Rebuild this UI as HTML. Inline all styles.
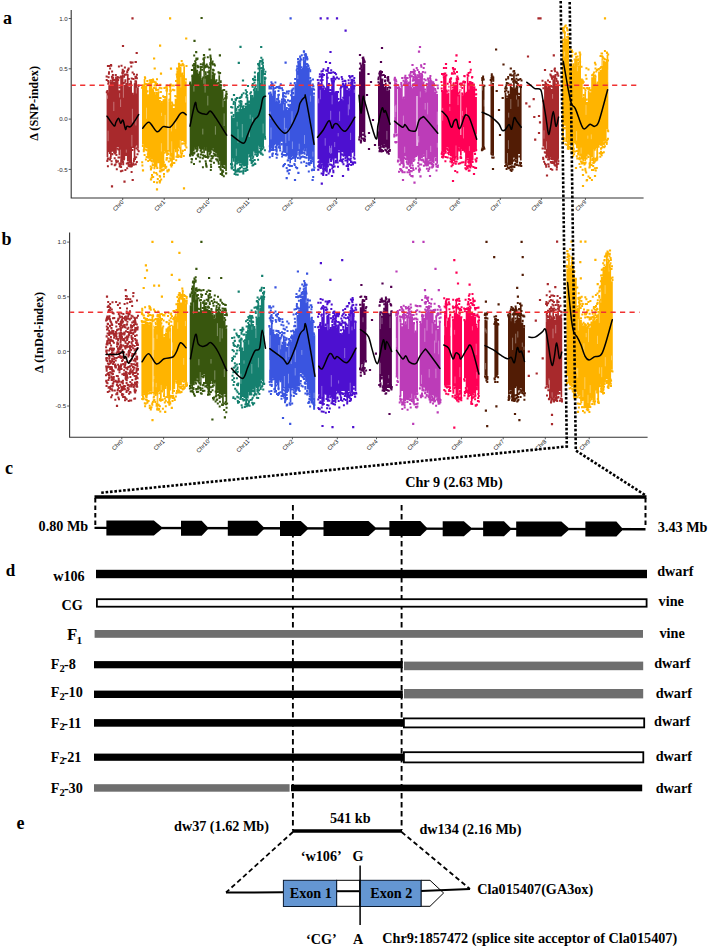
<!DOCTYPE html>
<html><head><meta charset="utf-8"><title>Figure</title>
<style>html,body{margin:0;padding:0;background:#fff;width:708px;height:948px;overflow:hidden}
svg{display:block}</style></head>
<body><svg width="708" height="948" viewBox="0 0 708 948" font-family="Liberation Serif, serif"><path d="M106.6 92.2V92.2H108.3V85.4H110V81.5H111.7V77.9H113.4V82.1H115.1V76.6H116.8V79.9H118.5V90.3H120.2V77.6H121.9V75.2H123.5V84.9H125.2V83H126.9V74.4H128.6V86.5H130.3V81.4H132V94.8H133.7V83.6H135.4V80.4H137.1V87.2H138.8V148.5H137.1V145.2H135.4V158.5H133.7V148H132V166H130.3V163.4H128.6V161H126.9V154.4H125.2V158.8H123.5V161.7H121.9V165H120.2V155.2H118.5V147H116.8V153.5H115.1V151.6H113.4V151.8H111.7V157.1H110V152H108.3V157.2H106.6Z" fill="#a8292c"/><path d="M107.5 95.4v3.4M108.1 141.2v-10.5M113.8 101.8v9.2M119.6 93.2v4.3M120.6 99.4v7.6M120.4 159.4v-9.7M123.4 84.1v13.7M126.3 152.7v-3.1M131.9 146.6v-11.7M132.4 108.8v13.8M136.3 87.8v5.7M135.9 125.5v-7" stroke="#fff" stroke-width="0.6" stroke-opacity="0.6" fill="none"/><path d="M106.4 90.9h2M106.7 159.6h2M105.8 92.2h2M107 158.5h2M107.7 82.6h2M108.8 152h2M107.3 83.8h2M108.9 153.1h2M109.8 80.8h2M109.4 157.8h2M109.8 80.7h2M109 159.6h2M112.1 77.5h2M111.2 154h2M111.9 75.1h2M111.4 154.3h2M113.8 80.6h2M113.4 151.8h2M112.8 79.8h2M113.1 152.2h2M114.8 75h2M115.4 155h2M114.7 75.1h2M114.1 153.6h2M116.1 78.4h2M117.4 149.4h2M116.7 77.3h2M116.2 148.6h2M118.4 87.4h2M117.5 157.5h2M118.9 87.6h2M118.7 157.6h2M120.1 77h2M120 166.5h2M119.8 76.6h2M120.1 166.9h2M122.3 72.8h2M122.2 164.2h2M121.3 72.7h2M122 162h2M122.7 83h2M123.1 159h2M122.8 83.3h2M122.8 159.6h2M124.3 81.8h2M125 155h2M124.4 80.3h2M125.1 155h2M126.2 72.3h2M127.1 162.6h2M126.3 71.5h2M127.3 162.5h2M128.2 84.6h2M127.7 164.3h2M129.3 83.9h2M128.2 166h2M129.8 81.4h2M130.8 166.1h2M130.7 78.5h2M130.3 166.5h2M131.7 93.8h2M131.4 150h2M131.8 94.3h2M131.2 150h2M134.2 83.5h2M133.1 159.5h2M134.4 81.2h2M133.3 159.1h2M135.9 78.3h2M135.2 148.2h2M134.8 78.2h2M134.6 145.7h2M137.5 86.1h2M136.7 149.4h2M137.6 85.4h2M137.7 151.2h2M135.9 74.7h2M116.1 161.5h2M134.4 76.8h2M123.1 71.2h2M113.5 80h2M107.9 73.8h2M108 72.2h2M131.1 164.6h2M110.6 161.3h2M108.1 65.9h2M130.6 171.9h2M115.9 79h2M135.2 157.2h2M110.2 65.8h2M115.8 169.2h2M134.8 164.2h2M127.8 79.1h2M110.7 164.2h2M113.7 158.2h2M131.6 72.6h2M133 74.3h2M116.5 76.9h2M126.4 74.7h2M107.6 77.2h2M109.6 158h2M118.4 163.4h2M113.1 80.2h2M121.7 69.7h2M127.7 68.4h2M121.5 73.1h2M118.9 165.6h2M135.2 77h2M107.2 81.1h2M133.9 157.7h2M134 158.9h2M132.9 160.9h2M129.3 166.6h2M134.5 62h2M111.3 77.8h2M123.9 67.4h2M127.5 68.7h2M122.2 162.4h2M106.9 166.3h2M125.8 163.6h2M136.5 154.3h2M132.7 164.7h2M119.9 171.2h2M117.9 66.5h2M110.9 76.7h2M134.9 61.9h2M124.9 74.6h2M115.1 160.4h2M105.7 80.1h2M106.3 160.9h2M132.5 79h2M123.1 76.7h2M113.7 165.2h2M131.6 62.5h2M121.4 170.8h2M124 74.8h2M109.1 68.4h2M129.7 165.8h2M130.1 62.7h2M121.7 71.3h2M121.8 75.3h2M105.6 76.5h2M115.4 162.2h2M127.6 165.7h2M117.8 77.7h2M114.5 164.4h2M132.3 163.3h2M120.5 65.8h2M129.6 62.3h2M111.1 71.4h2M117.2 80h2M119.3 163.8h2M124.4 169.9h2M129.7 165.1h2M126.2 168.2h2M118.7 166.5h2M135.8 162.1h2M130.3 66.6h2M116.9 161.3h2" stroke="#a8292c" stroke-width="2" fill="none"/><path d="M131.4 18.4h2.2M121.9 46h2.2M135.6 53h2.2M110.9 186.4h2.2M123.4 181.7h2.2M131.6 180h2.2M106.9 66h2.2M109.9 65h2.2M126.9 70h2.2" stroke="#a8292c" stroke-width="2.2" fill="none"/><path d="M142 87.3V87.3H143.7V79.1H145.4V85.8H147.2V94.2H148.9V84H150.6V82.8H152.3V89.7H154V94.6H155.8V91.9H157.5V92.3H159.2V100H160.9V103H162.6V99.2H164.3V98.3H166.1V87.5H167.8V101.3H169.5V86H171.2V104.6H172.9V108.1H174.7V98.7H176.4V70.5H178.1V66.6H179.8V67.3H181.5V74.9H183.3V66.2H185V81.2H186.7V144.6H185V141.3H183.3V141.1H181.5V153.6H179.8V147.7H178.1V156.4H176.4V148.9H174.7V160.1H172.9V163H171.2V156.8H169.5V151.7H167.8V155.9H166.1V151.6H164.3V167.3H162.6V168.8H160.9V169.4H159.2V161.8H157.5V166.9H155.8V165.9H154V162.8H152.3V159H150.6V157H148.9V155.3H147.2V147.9H145.4V147.4H143.7V143.7H142Z" fill="#ffb400"/><path d="M146.5 107.7v11.1M161.5 112.8v3.2M161.4 151.5v-8.3M165.2 114.9v10.6M171.4 125.9v5.5M171.7 152.9v-11.6M175.7 129v-7.9M180.8 77.1v10.4M180.3 147.3v-7.3M185.7 96.3v6.2" stroke="#fff" stroke-width="0.6" stroke-opacity="0.6" fill="none"/><path d="M141.8 87.1h2M141.9 146h2M141.7 86.2h2M142.1 143.8h2M143.9 77.3h2M143.1 148h2M144.2 78.3h2M142.8 149.9h2M144.7 83.9h2M145.7 150.3h2M144.9 84h2M144.8 149.6h2M146.5 91.3h2M147.4 157.8h2M146.2 91.5h2M147.2 156.2h2M149 83.5h2M149.5 158.4h2M149.4 81.9h2M148.9 157.8h2M150.9 82h2M150.8 161.2h2M150.1 82.4h2M150.3 160.5h2M151.7 89.6h2M152.5 165.2h2M153 87.9h2M151.9 165.3h2M153.7 94.1h2M153.4 168.3h2M153.8 92.8h2M153.4 168h2M154.8 89.5h2M156.2 167.8h2M155.4 90.2h2M156.3 168.1h2M157.6 92.2h2M157.1 162.2h2M157.3 89.8h2M158 161.9h2M158.2 98.1h2M159.5 171.4h2M159.6 98h2M158.9 171.2h2M160.9 102h2M161 170.4h2M160.8 102.9h2M160.5 170h2M162.9 97h2M162.9 169.6h2M162.1 96.3h2M161.9 170.1h2M164.2 97.2h2M165 151.7h2M164.3 97h2M163.6 152.8h2M165.2 87.4h2M165.7 158.1h2M165.6 87.1h2M166.4 158.3h2M167.7 100.3h2M167.4 154h2M168.4 99.5h2M167 153.6h2M169.7 84.4h2M170 159.3h2M169 85.6h2M169.1 158.3h2M171.3 103.7h2M170.7 164.1h2M170.8 102.4h2M171.1 164.6h2M172.1 105.2h2M172.8 162.9h2M173.5 105.2h2M173.3 162.9h2M175.4 96.4h2M174.9 151.2h2M174.3 95.9h2M174.8 150.1h2M176.6 68.9h2M176.9 156.9h2M176.1 68.4h2M175.5 156.7h2M178 66.4h2M177.2 150.3h2M178.2 66.1h2M178.6 147.8h2M180.4 65.5h2M180.3 156.3h2M179.6 65.3h2M179.8 156.5h2M181 74.3h2M181.8 143.4h2M181.4 73.4h2M181.2 143.7h2M182.6 65.3h2M183.5 141.3h2M182.5 65.2h2M183.8 143.6h2M184.9 79.6h2M185.4 147.4h2M184.7 79.3h2M184.5 145.5h2M181.5 150.8h2M145.7 157.1h2M150 168.9h2M180.7 61.1h2M163 176.4h2M150.6 80.1h2M162.7 162.3h2M170.4 166.4h2M153 172.6h2M175 81.1h2M153.3 81.7h2M146.8 154.3h2M167.8 169.8h2M168.2 94.1h2M153.5 81.9h2M150.6 167.7h2M156.1 84h2M180.3 156.9h2M143.6 155h2M169.8 164.9h2M155.1 85.4h2M146.7 85.3h2M144.9 159.6h2M166.2 85.5h2M149.9 169.6h2M159.9 92h2M154.6 83.5h2M151 174.9h2M156.2 174.6h2M142 85.3h2M152.2 177.1h2M142.8 151.2h2M145.6 84.2h2M143.2 87.1h2M158.8 182.4h2M151.8 81.7h2M164 164.7h2M156.8 179h2M178.7 156.5h2M159.1 176.7h2M164.6 168.1h2M158.6 181.6h2M165.5 159.8h2M148.8 160.1h2M165.4 90.4h2M164.7 87.4h2M145.6 156.9h2M165.3 166.8h2M173.3 90.2h2M154.8 82.4h2M181.8 150.9h2M150.7 177.5h2M156 79.2h2M179 68.1h2M146.3 81.1h2M170.8 164.4h2M141.4 165.4h2M169.7 159.3h2M180.5 154.3h2M167.8 161.6h2M159.3 84.7h2M162 163.2h2M141 87.8h2M147.2 161h2M153.1 182.1h2M170.3 164.6h2M152 79.6h2M166.1 89.8h2M175.7 74.4h2M180.3 153.2h2M185.5 66.1h2M160.4 88.2h2M177.5 155.3h2M169.4 90.2h2M171.1 85.5h2M169.7 90.9h2M172.8 85.4h2M181.1 153.2h2M148.8 80.2h2M156 182.5h2M176.1 76.7h2M163 173.9h2M149.7 166.4h2M166.5 171.6h2M147.7 83.7h2M142.2 87.3h2M175.2 160.3h2M153.9 166.3h2M177.9 63.8h2M158.7 175.9h2M181.8 64.6h2M141.2 162.2h2M181.6 63.7h2M151.7 177.1h2M183.9 150h2M163.9 166.5h2M182.8 156.1h2M171.9 89.8h2M152.1 80.1h2M169.8 159.4h2M169.7 160.5h2M151.7 164.2h2M154.9 88.3h2M167.6 170.6h2M155.2 173h2M163.4 88h2M158.7 87.8h2M177.5 69.5h2M166.3 170.4h2M168.8 86.6h2M147.4 156.5h2M153.5 85.4h2M146.8 84.4h2M176.8 69.8h2M160.2 179.5h2M165.8 89.1h2" stroke="#ffb400" stroke-width="2" fill="none"/><line x1="168" y1="92" x2="168" y2="150" stroke="#fff" stroke-width="0.9" stroke-opacity="0.85"/><path d="M169 18.4h2.2M159 45.7h2.2M185.1 38.5h2.2M153 58.5h2.2M153.6 68.5h2.2M159.9 73.7h2.2M169.9 68.7h2.2M178.1 64h2.2M141.9 170.3h2.2M149.9 179.3h2.2M155.9 189.4h2.2M158.9 181h2.2M182.9 188.4h2.2M170.7 165h2.2" stroke="#ffb400" stroke-width="2.2" fill="none"/><path d="M189.7 84.5V84.5H191.4V76.1H193.1V66.3H194.8V61.9H196.5V72.2H198.2V75.2H199.8V67H201.5V79.7H203.2V58.7H204.9V75.2H206.6V74.7H208.3V69.5H210V58.3H211.7V74.4H213.4V75.1H215.1V80.7H216.8V84.3H218.4V75.2H220.1V86.3H221.8V91.3H223.5V100.8H225.2V95.5H226.9V170.9H225.2V165.5H223.5V165H221.8V167.7H220.1V160.9H218.4V155.8H216.8V153.5H215.1V152H213.4V148.6H211.7V153H210V152.5H208.3V156.6H206.6V147H204.9V153.3H203.2V149.6H201.5V149.4H199.8V146.4H198.2V148.9H196.5V147.6H194.8V149.8H193.1V154.3H191.4V153.9H189.7Z" fill="#38560e"/><path d="M193.9 86v5.6M202.8 134.5v-5.8M203.8 72.1v11.7M205.1 78.7v13.9M207.8 95.8v9.7M211.3 69.8v9.3M215.4 134.7v-8.5M219.1 80.6v4.7M223 98.7v8.5M224.1 113.4v12.6" stroke="#fff" stroke-width="0.6" stroke-opacity="0.6" fill="none"/><path d="M189.3 82.4h2M189.7 154.2h2M189.6 84.3h2M189.1 155h2M191.8 75.4h2M191.6 155.3h2M191.3 75.8h2M191.8 154.9h2M193.1 64h2M192.5 149.9h2M193.5 65.3h2M193.5 152.6h2M194.2 61.3h2M194.6 148h2M195.3 59.8h2M195.2 148.8h2M195.5 71.9h2M195.8 151.2h2M196.1 70.8h2M196.5 149.7h2M198.6 72.3h2M198.5 147.7h2M197.6 74.9h2M198.6 146.8h2M199.8 64.2h2M200.4 149.7h2M200 66.9h2M199.6 150.7h2M201.4 79.1h2M201.1 152.2h2M202.2 77.4h2M200.6 152.3h2M202.7 58.6h2M203.1 156.2h2M203.6 57.5h2M203.9 155.7h2M204.7 72.3h2M204.9 149.7h2M204.7 73.9h2M204.9 147.9h2M207.1 72.3h2M206.9 157.8h2M207.3 72.3h2M206.6 156.9h2M207.9 67.8h2M208.4 154.2h2M208.1 67.6h2M208.7 153.8h2M209.4 55.6h2M209.2 153.3h2M209.5 56.7h2M210.4 156h2M212.1 73.6h2M212.3 150.3h2M211.7 72.6h2M210.8 149.1h2M212.8 74.5h2M212.8 153.4h2M213.6 74.2h2M213.8 154.9h2M215.5 80.3h2M214.8 154.6h2M215.3 80.6h2M214.6 155.7h2M217.2 83h2M217.4 156.4h2M215.9 83.9h2M216.7 156.2h2M219.1 73h2M217.8 163.7h2M217.5 72.3h2M217.5 161.7h2M219.2 84.8h2M219.5 168.6h2M220 85.2h2M219.8 169.7h2M222.4 90h2M221.6 165.1h2M220.9 90.9h2M221.9 167h2M222.6 99.5h2M223.7 167.9h2M224.1 98.3h2M223.5 167.2h2M225.7 94.2h2M225 173.4h2M225.4 94h2M225.2 173.3h2M210.4 158.8h2M199 74h2M191.9 65.6h2M221.1 172.3h2M225.5 97h2M197.3 154.2h2M207.7 156.6h2M225.1 97.1h2M191 159.4h2M191.2 151.5h2M201.1 69.8h2M196.6 66.1h2M209.2 64.6h2M196.5 58.6h2M209.4 63h2M203.8 67.4h2M212.5 64.3h2M195.3 52.3h2M218.3 73.4h2M219.7 82h2M199.3 157.5h2M205.2 165.3h2M193.1 153.6h2M193 163.9h2M196.9 67.2h2M204.4 65.7h2M198.1 74.4h2M205.6 166.8h2M211.6 61.6h2M204.6 157h2M221.3 175.1h2M192.9 152.4h2M221.6 170.5h2M223.3 85.4h2M205.7 64.4h2M206.2 66.7h2M195 158.7h2M215.2 159.3h2M212 69.8h2M211.5 158.1h2M195.1 51.9h2M204.6 161.2h2M222.8 176.3h2M191.3 152.9h2M225.3 91.7h2M201.9 167.3h2M221.1 173.9h2M212 64.6h2M193.2 55.5h2M198.8 161.4h2M196.5 155.3h2M200.9 67h2M190.5 162.2h2M189 84h2M202.4 59.3h2M197.2 156.5h2M222.2 171.7h2M208.9 160.7h2M210.3 161.3h2M201.9 64.8h2M196.3 59.1h2M196.4 65.7h2M190.5 154.3h2M213.9 65.5h2M212.7 70.3h2M210.1 167.1h2M225.4 98.2h2M206.6 66.6h2M202.3 63.2h2M191.2 154.3h2M209.8 169.9h2M221.8 171.3h2M204.2 67.1h2M213.2 64.2h2M195.4 58.4h2M219.7 81.3h2M206.8 57.3h2M212.3 156.3h2M223.2 89.9h2M213 162.7h2M211.3 63.5h2M201.8 158.2h2M209.8 58.8h2M205.4 166h2M197.7 66.7h2M216.3 159.4h2M209.9 164.8h2M218.3 167h2M189.2 155.8h2M216.3 160.5h2M190.6 159.1h2M205 163.5h2M200 154.6h2M202 155.3h2M219.7 174h2M224.8 95.4h2" stroke="#38560e" stroke-width="2" fill="none"/><path d="M200.5 18h2.2M193.4 40.8h2.2M208.5 49.5h2.2M218.8 55.4h2.2M190.9 70h2.2M202.9 55h2.2" stroke="#38560e" stroke-width="2.2" fill="none"/><path d="M230.9 115.6V115.6H232.6V117.9H234.4V101.5H236.1V111.6H237.9V111.4H239.6V104.7H241.3V108.9H243.1V108H244.8V105.5H246.6V97H248.3V103.8H250V94.7H251.8V97.3H253.5V90.5H255.3V87.9H257V74.1H258.7V61.5H260.5V69.4H262.2V64.7H264V80.6H265.7V136.9H264V147H262.2V151.5H260.5V145.7H258.7V154.7H257V153.4H255.3V151.6H253.5V156.4H251.8V160.2H250V154.4H248.3V165.1H246.6V166.3H244.8V166.5H243.1V165.6H241.3V163.1H239.6V161.2H237.9V162.4H236.1V170.2H234.4V158.3H232.6V166.8H230.9Z" fill="#15806f"/><path d="M237.2 121.8v4.6M236.3 155.9v-7.3M238 129.1v13.8M242.3 124v13.4M249.3 137v-6.3M250.2 114.7v4.2M252.7 117.4v5.6M258 81v9.8M260.5 69.3v13.7M263.4 75.2v9.4M263.1 133.4v-9.8" stroke="#fff" stroke-width="0.6" stroke-opacity="0.6" fill="none"/><path d="M230.8 112.7h2M231.6 167.2h2M230.4 112.7h2M230.5 167.4h2M232.4 116.5h2M232.6 158.8h2M232.7 115h2M232.7 160.7h2M234.5 99.3h2M234.5 171.5h2M234.8 100.2h2M234.8 170.4h2M235.4 110.3h2M236.6 162.5h2M235.5 108.7h2M235.9 163.5h2M238.2 109.7h2M238.2 161.4h2M238.5 110.7h2M238.3 162.5h2M239.4 103.1h2M238.9 164.7h2M239.3 102h2M239.9 164.5h2M240.7 106.4h2M240.7 167h2M241.9 108.5h2M240.5 165.8h2M242.1 106.5h2M242.9 168.7h2M242.6 106.3h2M242.6 168.7h2M244.8 103.9h2M244.4 168.8h2M245.5 103.8h2M244.9 168.5h2M246.2 95.4h2M245.9 165.8h2M245.9 95.2h2M246 167.4h2M247.9 102.8h2M248.3 156.4h2M248 101.5h2M248.8 155.3h2M249.3 93.5h2M250.6 163.1h2M250.1 92.3h2M250.5 160.9h2M251.3 96h2M252.2 156.7h2M251.5 96.8h2M251.7 158.6h2M253.6 88.4h2M254.2 154.4h2M252.9 90h2M254.2 152.1h2M254.8 85.5h2M255.5 154.4h2M254.5 86.8h2M254.6 154.2h2M257 73.7h2M256.6 155.1h2M257.6 73.1h2M256.1 156.1h2M259.3 61.5h2M259 145.9h2M259.2 61h2M259.1 148.2h2M261.2 67.9h2M260.6 153.5h2M259.7 68.3h2M260.1 153.7h2M261.3 64h2M261.3 149h2M262 62.8h2M262.2 147.1h2M263.7 78h2M264.2 138.8h2M264.5 78.2h2M264 137h2M253.7 77.5h2M251.8 84.1h2M235 174.6h2M258.7 151.6h2M257.4 68.6h2M233.6 174.1h2M259.5 152.5h2M261.6 59.8h2M263.9 150.2h2M251.6 86.8h2M230.3 164.1h2M254 77.5h2M253.7 159.9h2M253.9 72.5h2M251.2 162.2h2M253.5 82.6h2M233.9 165.6h2M240.5 96.7h2M235.1 99.3h2M242.2 171.5h2M239.2 168h2M238.5 98.1h2M262.4 147.8h2M239.7 101.1h2M258.1 151.6h2M231.1 168.4h2M244.8 90.3h2M242.3 173.6h2M257.4 152.4h2M242.6 93.3h2M237.5 169.2h2M264 74h2M253.7 163.4h2M230 164.3h2M254.3 164h2M257.7 65.5h2M231.1 99.7h2M260 149.9h2M252.4 164.9h2M245.1 93.8h2M238.3 101.6h2M242.4 171h2M261 61.3h2M244.6 171h2M262.8 69.6h2M240.1 171.4h2M236.9 169.4h2M239.1 97.8h2M257.1 152h2M257.1 159.8h2M230.8 168.4h2M256.7 154.9h2M239.8 97.3h2M263.7 77.6h2M234.4 172h2M247 86.1h2M230.9 99.2h2M232.8 170h2M232.8 102.1h2M231.4 107.6h2M240.6 101.8h2M251.5 165.5h2M235.9 171.6h2M238.6 171.7h2M252 78.9h2M264.4 71.7h2M240.4 104.1h2M260.3 57.8h2M238.3 105.6h2M236.9 107h2M261.7 154.7h2M240.9 94.7h2M231.2 164.4h2M254.3 80.1h2M252.1 160.9h2M245.4 97.2h2M237.9 171.2h2M249.3 160h2M245.8 92.1h2M238.4 168.7h2M261.5 62.5h2M239.9 104.6h2M257.1 64h2M232.6 104h2M238.5 98h2M236.7 174.8h2M253.8 76.5h2M263.9 79.6h2M246.4 170.1h2M230.2 107.1h2" stroke="#15806f" stroke-width="2" fill="none"/><path d="M239.4 46.9h2.2M237.7 62.9h2.2M260.1 47h2.2M252.7 80h2.2M241.9 80.5h2.2M232.9 95h2.2M235.9 98h2.2" stroke="#15806f" stroke-width="2.2" fill="none"/><path d="M269 94.2V94.2H270.7V95.7H272.4V84.9H274.1V93.2H275.8V101.7H277.5V96H279.2V103.3H280.8V100.6H282.5V97.6H284.2V102.7H285.9V109.8H287.6V107.8H289.3V103.7H291V91.8H292.7V95.7H294.4V85.8H296.1V70.8H297.8V61.8H299.5V62.5H301.2V69H302.9V60.2H304.5V57H306.2V65.5H307.9V68.2H309.6V80.6H311.3V87.6H313V95.6H314.7V167.2H313V160.3H311.3V159.5H309.6V160.9H307.9V154.8H306.2V148.2H304.5V149.2H302.9V154.2H301.2V151.9H299.5V151.1H297.8V155.2H296.1V162.1H294.4V156.1H292.7V157.6H291V163.2H289.3V159.1H287.6V154.7H285.9V152.9H284.2V152H282.5V141.8H280.8V148H279.2V145.8H277.5V152.7H275.8V144.2H274.1V147.2H272.4V147.9H270.7V150H269Z" fill="#3a55e0"/><path d="M270.1 111.6v7.3M271 139.4v-11.9M283.6 104.3v6M284.4 117.8v11.8M285.8 143.1v-10M286.1 127.9v4.1M287 152.8v-6.7M289 140.8v-11.8M292 111.2v12.5M292.4 149.1v-7.6M297.8 74.9v4.1M299.2 149.2v-5.5M304.5 143.9v-8.8M310.4 95.7v6M312.9 156.6v-5" stroke="#fff" stroke-width="0.6" stroke-opacity="0.6" fill="none"/><path d="M268 93.4h2M268.4 151.6h2M269.5 92.6h2M268.9 150.8h2M270 95.6h2M269.8 148.8h2M270.1 94.5h2M271.2 150h2M271.6 83.7h2M272 148h2M271.5 84.3h2M272.6 150h2M274 91.6h2M273.4 144.5h2M273.9 93.1h2M274.5 146.9h2M275.6 101.2h2M276.2 154.4h2M276.1 98.9h2M276.4 154.7h2M277.3 94.9h2M277.8 147.6h2M277.9 94.7h2M278.1 146.9h2M278.3 101.2h2M279.2 150.4h2M278.3 102h2M279.1 148.2h2M281.4 99.2h2M280.7 144.5h2M281 99.8h2M280.8 144.1h2M282.8 96.2h2M282.2 154.9h2M282 96.8h2M281.6 152.3h2M283.5 101.6h2M284.3 155.3h2M284 100.3h2M284 154.9h2M285 109.7h2M285 155.6h2M285.8 108h2M286.1 154.7h2M288 105.7h2M286.7 160.6h2M287.3 104.8h2M287 160.2h2M288.6 101.2h2M288.7 166h2M289.5 100.8h2M289.1 165.7h2M290.5 90.8h2M291.6 157.9h2M291.4 89.6h2M290.3 158.9h2M292 92.7h2M293 156.9h2M292.3 93.6h2M293.2 157.7h2M294.6 85.1h2M293.4 164.1h2M293.8 83.1h2M293.7 165.1h2M295.7 70.3h2M295.2 156.8h2M296.2 68.5h2M295.2 155.3h2M297 59.1h2M298.3 153.9h2M297.4 61.5h2M298.2 152.4h2M299.2 61.7h2M298.7 152.1h2M300.1 59.6h2M298.6 153.7h2M301.6 68.7h2M300.5 157.1h2M300.6 67.2h2M301.7 156.4h2M302.7 58h2M301.9 149.4h2M302.5 59.7h2M303.4 150.5h2M305.1 56.7h2M304.6 150.6h2M305.1 55.3h2M304.3 148.8h2M305.9 63.9h2M305.7 157.7h2M306.8 64.7h2M305.9 155.1h2M308.1 68.2h2M308.1 162.8h2M307.4 65.9h2M308.4 163.6h2M309.2 78h2M310 161.6h2M309.9 80.5h2M310 160.9h2M311.8 84.6h2M310.3 163h2M311.6 85.8h2M311.6 161.3h2M312.9 93.8h2M313.4 167.7h2M313 93.4h2M313 170.1h2M306.4 58.9h2M298.6 155.8h2M273.1 88.4h2M291.5 90h2M306.2 59.4h2M307.8 171.6h2M274.4 82.5h2M304.5 56.3h2M287.5 165h2M305.6 163.3h2M275.4 150.5h2M282.9 165.1h2M274.8 149.6h2M309.2 71.2h2M268.8 157.3h2M299.9 153.5h2M271.3 154.3h2M284.9 93.5h2M312 79.5h2M283.1 93.1h2M294.9 167.2h2M302.5 152.8h2M271.4 156h2M278.2 88.3h2M280.9 154h2M311.4 169.6h2M303.3 156.9h2M287.3 93.4h2M275 154h2M289.7 83.5h2M286.7 170.6h2M309.2 70.2h2M282.1 94.1h2M281.7 90.2h2M297.6 64.1h2M283.2 99.4h2M282.2 166.2h2M290.7 91.8h2M304.5 55.9h2M285.7 168h2M306.1 57.3h2M308.5 164.1h2M312.4 88.7h2M282 95.4h2M296.2 66.2h2M268.5 88.6h2M287.9 91.2h2M269.5 146.5h2M275.7 157.7h2M304.7 54.1h2M304.2 55.6h2M269.8 150h2M299.3 57.2h2M287.9 173.6h2M283.2 96.3h2M277.3 87h2M304.4 157.4h2M303.7 153.7h2M313.1 89.7h2M297.2 62.3h2M303.6 54.6h2M271.9 153.5h2M299.7 59.2h2M270.5 88.5h2M277.5 90.9h2M268.5 86.6h2M285.4 102.2h2M299.8 151.7h2M299.1 158.5h2M301 152.6h2M268.8 146.2h2M296.2 168h2M270.4 82.2h2M286.9 100.3h2M288.7 170.1h2M298.4 153.3h2M305.5 58.2h2M279.8 84.2h2M296.9 157.9h2M290.9 166h2M292.5 88.6h2M275.7 87h2M297.5 62h2M279.8 88.2h2M303.1 161.7h2M310.9 170.2h2M286.5 171.2h2M281.1 156.4h2M290.1 95.2h2M274.5 87.9h2M303.4 152.8h2M269.8 87.5h2M299.4 158.1h2M305.3 166h2M284.8 96.8h2M276.8 87.3h2M308.6 164.7h2M300.3 162.6h2M300.2 152h2M270.4 85.1h2M278.5 86.4h2M299.4 60.5h2M283.9 163.9h2M307.6 164.3h2M293.7 83.3h2M299.1 56.6h2M312.4 86.3h2M281 88.3h2M282.2 92.9h2M300.8 55.2h2M305 58.3h2M302.9 51.5h2M285.9 91.5h2M270.9 85.9h2M299.2 60.6h2M296.1 168.2h2M312.2 177.1h2M294.2 79h2" stroke="#3a55e0" stroke-width="2" fill="none"/><path d="M289.5 18.4h2.2M284.5 62.6h2.2M302.9 51.7h2.2M297.3 172.8h2.2M285.6 178.2h2.2M293.9 180h2.2M311.5 180h2.2M270.9 84h2.2" stroke="#3a55e0" stroke-width="2.2" fill="none"/><path d="M317.5 84.5V84.5H319.2V83.2H320.9V77H322.6V87.7H324.4V89.9H326.1V73H327.8V85.6H329.5V92H331.2V80.5H332.9V79.3H334.6V92.9H336.4V92.1H338.1V101.7H339.8V89.6H341.5V100.3H343.2V84.5H344.9V82.4H346.6V89.7H348.3V90.2H350.1V81.9H351.8V80.8H353.5V86.8H355.2V156.6H353.5V150.2H351.8V157.3H350.1V156.3H348.3V163.7H346.6V156.8H344.9V154.8H343.2V152.2H341.5V160.3H339.8V150.2H338.1V160.9H336.4V158.4H334.6V165.8H332.9V158.4H331.2V158.5H329.5V163.4H327.8V172.6H326.1V165.1H324.4V174.3H322.6V163.6H320.9V164.5H319.2V159.3H317.5Z" fill="#4d10d0"/><path d="M318.7 98.5v4.8M320.3 89.8v9.5M325.2 145.7v-7.5M329.5 152.7v-6.9M330.7 110.8v8.9M330.7 153.9v-6.1M332.1 95.2v9.1M331.6 153.2v-7.6M334.7 147.1v-5.1M339.6 111.4v9.5M338.2 136.4v-3.3M348.3 104.4v10.9M349.4 96.4v13M350.6 140v-7.2M354.3 89.6v3.3" stroke="#fff" stroke-width="0.6" stroke-opacity="0.6" fill="none"/><path d="M317.5 82.8h2M317.5 162.1h2M317.4 84.2h2M318 161.5h2M319.4 80.2h2M318.3 167.2h2M319.9 80.6h2M319 166.5h2M320.4 76.3h2M321 164.5h2M321.4 76.7h2M320.3 164.9h2M322.8 86.8h2M322.2 174.9h2M321.7 85.5h2M322.2 175h2M325 89.8h2M324.2 166.6h2M324.3 88.6h2M324.9 166.9h2M326.7 71h2M325.4 175.1h2M325.1 70.4h2M325.3 175.1h2M328 84h2M326.9 166.2h2M328.2 84.5h2M326.8 164.6h2M329.1 90h2M330.1 161h2M329.9 90.2h2M329.9 159.2h2M331.5 78.7h2M330.4 160h2M330.5 78.9h2M330.9 158.8h2M333.5 78.2h2M333.6 166.4h2M332.6 76.7h2M332.1 167h2M334.7 92.6h2M335 160.7h2M334.2 92.4h2M334.9 161.2h2M335.4 92h2M335.7 162.3h2M337 92h2M336.7 162.5h2M338.6 101.7h2M338.8 151.4h2M337.5 99.1h2M337.9 151.4h2M339.5 88.8h2M338.8 160.7h2M340.1 87.4h2M340.4 160.7h2M342.2 97.7h2M341.4 154.8h2M340.8 99.9h2M340.7 154.3h2M342.4 84.4h2M342.7 155.7h2M342.2 84h2M343.6 155h2M344.1 81.1h2M344.5 158.1h2M344.4 81h2M345.6 156.8h2M345.8 86.8h2M345.6 166.1h2M346.1 87.6h2M347 165.9h2M347.7 89.5h2M347.5 159h2M347.9 89.2h2M347.6 158.7h2M350.4 79.8h2M349.8 158.4h2M350.6 81.4h2M349.2 159.9h2M351.5 80.6h2M351.9 150.9h2M351.4 79.7h2M351.3 151.7h2M353.7 85.8h2M352.7 157.6h2M352.9 85.9h2M353.6 158.7h2M343.7 80.8h2M327.6 173.6h2M340.7 77.1h2M348.3 76.1h2M351.2 80.4h2M335.1 74.2h2M320.6 173.6h2M321 74.6h2M332.4 172.3h2M353.3 78.1h2M330.6 80.4h2M335.8 161.7h2M324.5 169.7h2M334 72.9h2M321.6 74h2M341.7 81.5h2M330.2 164.8h2M324.2 169.3h2M347.3 169.8h2M327.2 67.9h2M352 164.2h2M350.2 165.1h2M348.1 164.2h2M325.9 165.8h2M347.6 80.3h2M332.7 81.6h2M322.7 74.9h2M346.5 160.6h2M326.6 77.7h2M344.5 160.4h2M342.5 164.2h2M342.2 159.3h2M336 77.5h2M318.7 76.8h2M353.6 82.8h2M329.5 73.1h2M352.7 162.4h2M353.6 162.3h2M350.3 161.6h2M331 165.6h2M322.8 165.7h2M317.2 169.8h2M332.3 170.8h2M317.4 169.7h2M331.2 81.2h2M317.1 166.3h2M324.6 170.6h2M334.3 79.3h2M316.8 80h2M340.3 86.6h2M336 77.8h2M350 162.1h2M347.1 168.5h2M319.6 168.1h2M329 169.8h2M324.2 167.7h2M329 164.4h2M327.6 72.8h2M337.8 78.8h2M330.2 70.3h2M334.4 162.5h2M347.8 83.2h2M341.1 160h2M321.6 79.9h2M321.7 71h2M331.2 168.5h2M337 166.8h2M332.9 81.3h2M341.5 162.3h2M326.8 69.7h2M322.3 169.1h2M341.9 84.1h2M322.4 171.6h2M350.5 76.6h2M346.6 165.1h2M318.9 74.3h2M341.8 86.4h2M317.6 83.1h2M349 77.5h2M354.2 162.7h2M341.5 162h2M353 80.5h2M332.4 72.2h2M320.3 165.4h2M322.1 174h2M324.5 165.5h2M322.5 69.2h2M328.8 171.6h2M341.3 78.9h2M318.2 164.6h2M340 87.2h2M320.5 167.6h2M351.5 76h2M351.3 162.4h2M340.7 160.9h2M323.1 74.9h2M320.5 71.4h2M330.3 72.7h2" stroke="#4d10d0" stroke-width="2" fill="none"/><path d="M319.6 18.4h2.2M326.4 18.4h2.2M335.9 18.4h2.2M344.5 30.6h2.2M329.4 52h2.2M324.9 62h2.2M328.9 63h2.2M320.7 183.7h2.2M330.9 176h2.2M341.9 176h2.2" stroke="#4d10d0" stroke-width="2.2" fill="none"/><path d="M359 71.5V71.5H360.6V68.5H362.1V59H363.7V63.8H365.3V134.7H363.7V132.2H362.1V139.5H360.6V136.9H359Z" fill="#520050"/><path d="M358.9 68.7h2M358.2 139.4h2M359.6 68.5h2M358.5 137.2h2M360.2 65.6h2M359.6 140.4h2M360.3 67.4h2M359.9 142.4h2M362.2 58.6h2M362.2 134.4h2M362.3 57.5h2M361.2 134.7h2M363.4 61.3h2M364.1 136.5h2M363.7 61.9h2M363.3 135.3h2M360.1 140.4h2M362 138.4h2M363 62.3h2M363.1 60.5h2M363.7 141h2M363.2 60.9h2M363 139.9h2M360.2 140.8h2M362.7 59.2h2M363.3 140.6h2M361.8 63.8h2M359.2 63.5h2M361.7 58.1h2M364 139.4h2M363.2 138.8h2M362.7 138.7h2" stroke="#520050" stroke-width="2" fill="none"/><path d="M378 83.7V83.7H379.7V72.4H381.5V80H383.2V87.1H384.9V82.8H386.6V90.8H388.4V89.5H390.1V148.8H388.4V149.7H386.6V147.5H384.9V144.6H383.2V145.3H381.5V149.3H379.7V146.6H378Z" fill="#520050"/><path d="M378.6 131.5v-10.2M386.9 139.6v-8.7" stroke="#fff" stroke-width="0.6" stroke-opacity="0.6" fill="none"/><path d="M378.7 83.5h2M378.5 148.1h2M377.5 82.2h2M378.4 147.9h2M379.6 71.2h2M379.1 149.9h2M378.9 71.9h2M379.5 150h2M381.4 79.4h2M381.9 145.3h2M381 79.6h2M381.2 146.7h2M382.3 86.8h2M383.6 145.5h2M383 85.1h2M382.9 147.2h2M384 81.2h2M384.3 149.7h2M384.2 80.6h2M384.8 150.4h2M386.4 88h2M387.1 152h2M386.3 89.8h2M386.1 152.6h2M389.1 87.7h2M388.9 149.9h2M388.3 87.2h2M387.7 150.9h2M384 75.9h2M386.7 80.2h2M378.8 74.8h2M387.2 77.1h2M386.4 77.8h2M389 83.3h2M382 150.9h2M387.4 80h2M380.2 72.9h2M377.6 78.4h2M380.9 75.3h2M378.3 73.5h2M382.7 75.1h2M388.2 82.5h2M378.9 150.1h2M381 72h2M377.4 79.3h2M384 77.1h2M380.6 151.6h2M387.8 153.8h2M378.5 151.2h2M379.5 73.6h2M386.9 80.8h2M388.7 151.1h2M380.6 75.3h2M377.7 77.6h2M380.8 150h2M387.2 78.9h2M378.8 75.8h2M380.4 150.7h2M385.1 150.5h2" stroke="#520050" stroke-width="2" fill="none"/><path d="M367.4 74h2.2M365.9 95h2.2M367.9 133h2.2M367.9 149h2.2M373.9 145h2.2M380.9 48h2.2M379.9 62h2.2M369.9 82h2.2M371.9 120h2.2M358.9 55h2.2" stroke="#520050" stroke-width="2.2" fill="none"/><path d="M394.2 79V79H395.6V84.7H397V133.4H395.6V133.7H394.2Z" fill="#bc3cb8"/><path d="M395 117.2v-11M395.8 104.7v7.2" stroke="#fff" stroke-width="0.6" stroke-opacity="0.6" fill="none"/><path d="M393.9 77.7h2M393.3 136.5h2M393.7 78.8h2M393.3 134.8h2M394.7 83.9h2M395.8 134.8h2M395.3 84.5h2M395.4 135.6h2M395.3 81.4h2M394.8 142.6h2M393.5 79.7h2M394.8 79.7h2M394.3 142h2M395.6 142.1h2M394.4 142h2" stroke="#bc3cb8" stroke-width="2" fill="none"/><path d="M397.7 87.2V87.2H399.4V89.1H401.1V84.7H402.7V98.8H404.4V79.2H406.1V80.3H407.8V85.6H409.5V75H411.1V88.3H412.8V87H414.5V76.1H416.2V77.8H417.9V79H419.5V76.5H421.2V76.6H422.9V84.4H424.6V92.2H426.2V85.7H427.9V81.2H429.6V78.3H431.3V84H433V86.2H434.6V92.1H436.3V95H438V163.7H436.3V157.5H434.6V163.5H433V162.1H431.3V160.3H429.6V159.2H427.9V163.5H426.2V162.2H424.6V154.8H422.9V158H421.2V158.9H419.5V161.6H417.9V155.7H416.2V156.7H414.5V159.8H412.8V164.5H411.1V166.2H409.5V163.5H407.8V160.8H406.1V156.6H404.4V164.5H402.7V162.5H401.1V161.8H399.4V158.4H397.7Z" fill="#bc3cb8"/><path d="M403.4 115.6v10.5M404.7 152.8v-6.1M417.7 145.8v-6.2M418.7 142.5v-6.4M420.3 91.5v5.9M425.2 103v6.6M427.6 102.7v11.7M426.7 158.2v-8.1M430.7 152v-6.2M437.3 111.6v13.1M437.3 147.6v-4.8" stroke="#fff" stroke-width="0.6" stroke-opacity="0.6" fill="none"/><path d="M397.3 85.4h2M396.9 161.4h2M396.8 84.9h2M397 160.4h2M398.4 87.5h2M399.1 164.4h2M399 89h2M398.8 164.4h2M400.3 83h2M400.3 162.9h2M400.3 84h2M401.6 163.1h2M403.1 97.4h2M402.5 164.5h2M402.4 98.1h2M402.4 167.1h2M403.6 77.7h2M404.8 158.9h2M404.8 78h2M403.6 158.1h2M406.6 78h2M406.3 163.7h2M405.2 79.2h2M405.8 162h2M407.6 84.6h2M407.2 163.5h2M406.9 85.1h2M407.6 164.2h2M410 72h2M408.8 166.3h2M409.5 73.4h2M410 167.9h2M410.4 88.1h2M411.7 165.6h2M411.5 86h2M411.5 165.4h2M413.3 84.1h2M412.4 160.9h2M411.8 84.5h2M412.8 160.3h2M414.1 75.3h2M413.5 157.1h2M413.9 74.2h2M413.5 159.5h2M416.7 77.4h2M415.3 156.1h2M415.5 77.2h2M415.2 156.1h2M418 77.3h2M418.5 164.4h2M418.4 77.5h2M417.3 163h2M420.1 76.1h2M419.6 159.7h2M418.6 76.5h2M419.2 159.4h2M421 74.5h2M421.7 159.5h2M421.2 76h2M420.8 160.3h2M422.6 82.5h2M423.3 155.6h2M422 84.1h2M422.4 155.9h2M424 89.6h2M424.6 164.7h2M423.8 91.7h2M424.2 163.6h2M425.8 83.9h2M426.9 165.2h2M426.1 84.6h2M425.4 165.4h2M427.5 80.8h2M427.4 162h2M427.3 79.4h2M428.5 160.4h2M429.1 78.1h2M429.8 160.7h2M429.4 76h2M430 162.9h2M430.6 83.6h2M431 163.3h2M430.5 81.6h2M430.4 163.2h2M433 84h2M432.1 166.4h2M432.8 83.9h2M432.3 164.9h2M434.5 90.5h2M434.8 160.3h2M434.1 89.1h2M434.9 158.7h2M436 94.9h2M435.5 166.5h2M435.5 92.3h2M436.9 165.6h2M407.9 170.1h2M430.9 164.5h2M435.5 170.4h2M413.3 73.2h2M417.4 166.2h2M426.9 78.5h2M409.7 75.8h2M432.3 82.3h2M415.7 68.1h2M416.6 69.9h2M408.6 172.2h2M401.5 172.2h2M418.2 171.7h2M398 171.8h2M402.8 165.7h2M412 168.2h2M419.1 169.7h2M414.9 168.4h2M435 164.2h2M427.3 162.2h2M422.9 165.8h2M408.9 174.6h2M411.9 72.1h2M420.4 66.8h2M431.3 166.9h2M409.2 76.9h2M416.3 75.3h2M405 79.5h2M421.9 72h2M409.4 170.9h2M436.7 167.1h2M411.6 176.5h2M436.7 85.4h2M405.4 167.6h2M410.7 171.3h2M400.6 85.8h2M422.7 161.7h2M418 72.1h2M399.2 169.1h2M425.3 162.7h2M413.8 71.2h2M420.1 65.3h2M396.8 87.9h2M429.9 163.3h2M429 163h2M420.3 73.7h2M403.6 172.2h2M405.1 83.8h2M412.5 169.9h2M427.5 161.5h2M435.4 80.1h2M422.7 67.9h2M436.9 88.3h2M406.5 172.2h2M405.9 167.7h2M429.2 163.4h2M425 163.8h2M426.4 162.3h2M411.2 76.3h2M413.3 80.1h2M418 75.6h2M418.5 74h2M427.4 170.9h2M420.9 77.4h2M412.4 77h2M417.9 169.9h2M431.1 167.5h2M422.5 160.6h2M424 162.2h2M411.5 175.9h2M413.7 70.9h2M404.4 75.8h2M424.2 72.4h2M407 83.9h2M412.9 77.4h2M408.2 82.5h2M410.3 176h2M418.5 168.5h2M420.2 164.4h2M411.8 80.8h2M412.6 74h2M428.1 169.1h2M423.3 79.3h2M402.5 80.8h2M412.8 69.8h2M431.6 83.2h2M412.3 79.1h2M400.3 169.5h2M401.2 77.9h2M401.2 170.9h2M425.9 168.7h2M429.7 80.8h2M400 170.4h2M435.1 79.8h2M427.1 163.5h2M404.3 83.7h2M408 82.9h2M426.6 165.2h2M403 84.5h2M424.7 80.2h2M408.4 75.3h2M403.6 82.2h2M428.7 167.6h2M414.8 78.1h2" stroke="#bc3cb8" stroke-width="2" fill="none"/><line x1="417" y1="96" x2="417" y2="146" stroke="#fff" stroke-width="1.2" stroke-opacity="0.85"/><path d="M418.9 47h2.2M417.9 51.7h2.2M411.4 65h2.2M423.4 64h2.2M413.4 182.7h2.2M419.4 176.3h2.2M401.9 180h2.2M428.9 176h2.2" stroke="#bc3cb8" stroke-width="2.2" fill="none"/><path d="M441.4 91.1V91.1H443.1V77.3H444.8V76.7H446.5V93.2H448.2V92.5H449.9V80.6H451.5V90H453.2V86.1H454.9V84.6H456.6V80.8H458.3V94.5H460V92.8H461.7V95.2H463.4V84.5H465.1V93H466.8V76.6H468.4V83.1H470.1V83.6H471.8V84.7H473.5V88.8H475.2V97H476.9V149.8H475.2V152H473.5V160.1H471.8V165.3H470.1V162.9H468.4V158.1H466.8V159.8H465.1V149.6H463.4V149.1H461.7V155.5H460V147.7H458.3V157.1H456.6V158.5H454.9V158.8H453.2V159.7H451.5V156.3H449.9V152.9H448.2V147.4H446.5V151.7H444.8V152.7H443.1V151.7H441.4Z" fill="#ff0055"/><path d="M442.7 107.9v12.8M449.8 106.7v4.3M456 156.2v-10.7M458 96.4v8.7M462.5 110.9v4.9M463.5 138.4v-11.3M466.5 107.6v8.9M469 85.8v3.7M469.4 150.9v-4.7M476.7 138.5v-4.6" stroke="#fff" stroke-width="0.6" stroke-opacity="0.6" fill="none"/><path d="M441 90.9h2M441.1 152.2h2M440.7 88.4h2M440.7 153.8h2M443.6 76.7h2M443 153.4h2M443.4 77.1h2M442.5 155.5h2M445.4 75.2h2M444.6 152.1h2M444.5 76.1h2M444.7 152.8h2M445.9 91.7h2M446 148.8h2M445.6 90.6h2M447.1 150.2h2M448.2 90.6h2M447.2 153h2M448.7 91.1h2M447.9 154.3h2M449 79.4h2M450 159h2M450.1 78.3h2M449.4 158.2h2M452.2 89.9h2M450.9 161.1h2M451.8 87.5h2M450.9 159.7h2M452.5 84h2M453.1 160h2M452.8 83.3h2M453.7 159h2M455 83h2M454.1 161.4h2M455.2 82.8h2M455.6 161.5h2M455.7 78.7h2M456.4 158.9h2M455.8 80.6h2M456.5 158h2M457.7 93.4h2M457.9 148.8h2M457.4 93.2h2M458.1 150.6h2M459.1 92.1h2M459.5 157.8h2M459.5 90.1h2M460.2 158.1h2M461 93.5h2M461.6 150h2M461.6 94.5h2M461.8 149.6h2M463.6 82.7h2M463.7 151.6h2M464 81.9h2M463.7 149.8h2M465.5 93h2M464.8 160.5h2M465.6 92.7h2M464.7 162.3h2M466.8 75.2h2M467.4 159.8h2M466.5 74.8h2M466.4 159.2h2M468.9 81.9h2M468.2 165.7h2M468.6 82.1h2M467.7 165.6h2M469.8 83.4h2M470.4 165.7h2M470.2 83.5h2M469.4 167.5h2M471.2 84.2h2M471.2 161.3h2M471.4 82.9h2M471.6 161.9h2M473.4 88.2h2M474 153.8h2M473.4 87.2h2M474.1 154.1h2M475.2 94.3h2M475.2 150.1h2M474.7 94.6h2M474.6 150.4h2M472.8 87.6h2M472.4 167h2M459.5 83.6h2M456 71.9h2M468.3 166.4h2M451.2 161.3h2M469.8 69.8h2M471.3 76.9h2M473.9 167.8h2M465.9 166.2h2M460.9 84.6h2M459.6 157.1h2M449.4 161.6h2M452.4 69.3h2M445.1 68.1h2M454.8 163.8h2M475 89.7h2M460.7 162.5h2M467.3 162.1h2M475.8 158.2h2M442.3 74.7h2M469.5 164.3h2M465.2 169.3h2M462.5 82.2h2M454.2 171h2M450.3 159.2h2M467.6 73h2M462.4 162.2h2M449.1 81.9h2M459.7 157h2M451.9 73.8h2M448.4 86.7h2M444.4 161.3h2M449.3 81.5h2M441.1 156.9h2M454 73.4h2M456.3 76.4h2M466.6 168.2h2M442.8 77.2h2M444.6 157h2M443.7 73.6h2M464.4 168.3h2M463.3 76.1h2M449.7 79.1h2M441 73.9h2M443 74h2M467.8 170.7h2M456.8 78h2M441.3 154.5h2M457.7 163.7h2M446.7 83.7h2M450.5 166.2h2M459.8 87.1h2M475.3 160.7h2M461.2 88h2M450.8 162.6h2M466.7 168.2h2M454 69.2h2M469.3 72.3h2M450.9 73.7h2M452.6 163.3h2M470.1 82.5h2M451.6 164.9h2M457.2 79.2h2M448.7 81.8h2M472.9 84.6h2M474.5 159.5h2M460.7 83.5h2M468.6 170.5h2M462.7 81.4h2M446.7 157.6h2M451 73.2h2M467.7 166.1h2M471 77.5h2M442.9 68h2M463.7 76.2h2M467.9 162.8h2M442.4 156.3h2M462.3 81.9h2M456.3 172.3h2M446.6 157.6h2M464.6 163.3h2M451.3 160.7h2M459.2 163.2h2M467.3 75.8h2M475.1 161.5h2M452.9 71.5h2M464.4 165h2M441.9 157.5h2M458.8 84.2h2M440.5 81.9h2M444.3 73.6h2" stroke="#ff0055" stroke-width="2" fill="none"/><line x1="460.8" y1="86" x2="460.8" y2="135" stroke="#fff" stroke-width="0.9" stroke-opacity="0.85"/><line x1="449.8" y1="84" x2="449.8" y2="104" stroke="#fff" stroke-width="0.9" stroke-opacity="0.85"/><path d="M455.4 55.4h2.2M454.7 61h2.2M444.9 64h2.2M451.9 68h2.2M468.7 62h2.2M451.9 181h2.2M472.9 174h2.2M474.9 168h2.2" stroke="#ff0055" stroke-width="2.2" fill="none"/><path d="M481.8 79.6V79.6H483.1V85.9H484.5V147.4H483.1V147.5H481.8Z" fill="#521c05"/><path d="M482.3 83.8v6.7M484.2 99.8v6.7" stroke="#fff" stroke-width="0.6" stroke-opacity="0.6" fill="none"/><path d="M481.2 78.2h2M481 149.5h2M482.1 77.7h2M480.9 150.3h2M483.4 85.7h2M483 147.4h2M483.1 85.8h2M483.4 148.7h2M482.7 79.6h2M482.1 76.6h2M481.4 77.9h2M481.5 148.3h2M481.8 78.3h2M481.3 80h2M481.9 149.6h2" stroke="#521c05" stroke-width="2" fill="none"/><path d="M490.5 77V77H492.2V83H494V155.8H492.2V152.9H490.5Z" fill="#521c05"/><path d="M491.3 82.3v4.1" stroke="#fff" stroke-width="0.6" stroke-opacity="0.6" fill="none"/><path d="M490.7 75.7h2M490.4 153.7h2M490.8 74.3h2M490.9 154.5h2M492.2 80.8h2M492 157.5h2M492.3 80.2h2M492.6 157.4h2M491.2 157.4h2M491.1 77.6h2M492.1 157.7h2M491.6 76.6h2M492.3 77.6h2M492.3 78.4h2M491.5 77.2h2M491.1 78.9h2M489.7 79.9h2" stroke="#521c05" stroke-width="2" fill="none"/><path d="M504.7 92.6V92.6H506.4V97.9H508.1V93.8H509.8V85.2H511.5V88.8H513.1V73.5H514.8V89.2H516.5V87.6H518.2V95.9H519.9V87.8H521.6V160.5H519.9V154H518.2V162.1H516.5V159.3H514.8V157.8H513.1V164.6H511.5V165.2H509.8V165.4H508.1V167H506.4V163.8H504.7Z" fill="#521c05"/><path d="M507.5 164.9v-11.9M508.7 112.7v4.9M508.4 149v-8.8M510.8 99.1v9.9M516.5 95.3v4.2M518.1 99.4v7.3" stroke="#fff" stroke-width="0.6" stroke-opacity="0.6" fill="none"/><path d="M504 91.6h2M505.2 164.7h2M505.3 90.4h2M504.1 165.9h2M506.9 96.7h2M505.6 169h2M506.1 96.6h2M506.8 167.6h2M507.3 92.6h2M508.5 167.7h2M507.4 91.8h2M508 168.2h2M509.8 84.5h2M509.4 167h2M509.2 84.7h2M510.4 167.5h2M511 88.4h2M511.9 166.5h2M510.5 87.9h2M510.7 166.3h2M513.2 71.1h2M513.4 159.6h2M512.4 71.5h2M512.5 160.7h2M514.3 89.2h2M514.9 161.5h2M515.3 88.3h2M514.8 160.5h2M515.8 86.2h2M516.2 162.4h2M516.3 87.2h2M515.8 164.9h2M517.8 93.8h2M518.4 156.6h2M518.5 94.2h2M518.3 156.5h2M520 87.1h2M520 162.9h2M520 85.4h2M519 162.8h2M515.9 83.3h2M515.6 81.5h2M504.2 88.5h2M517.7 79.8h2M507.5 163.6h2M506.5 83.6h2M518.8 86.6h2M514.2 163.9h2M510.5 170.9h2M515.3 75.6h2M505.4 85.2h2M513.8 164.8h2M520.5 80.4h2M513.7 80.4h2M512.2 81.8h2M519.1 165.4h2M515.4 78.8h2M517.1 74.7h2M511.1 78.9h2M511.5 169.4h2M517.3 80h2M520.3 166h2M509.1 74.8h2M505.7 88.2h2M509.7 75.2h2M518.8 86.3h2M511.1 75.4h2M505.8 83.1h2M513.7 73.3h2M510.9 79.5h2M509.7 74.4h2M513.4 167.1h2M517.8 165.5h2M519.4 79h2M507.2 78.6h2M504.8 86.9h2M511.2 166.8h2M507.2 77.1h2M505.1 79.6h2M514.8 82.4h2M507.3 83.4h2M516.8 84h2M519.5 163.8h2" stroke="#521c05" stroke-width="2" fill="none"/><path d="M495 49.5h2.2M502.4 64.5h2.2M509.7 68.5h2.2M495.6 91h2.2M501.6 98h2.2M491.9 169h2.2M509.6 170h2.2M497.9 110h2.2M498.9 135h2.2" stroke="#521c05" stroke-width="2.2" fill="none"/><path d="M542.5 100.9V100.9H544.1V83.9H545.8V85.6H547.5V87.3H549.1V88.5H550.8V89.1H552.4V79.2H554V77.6H555.7V83.6H557.4V84.4H559V158.7H557.4V167H555.7V162.7H554V160.6H552.4V159.9H550.8V157.3H549.1V158H547.5V156.5H545.8V149.8H544.1V146.4H542.5Z" fill="#a8292c"/><path d="M544 138.7v-8.4M546.5 149v-7.7M552.6 94v4.7" stroke="#fff" stroke-width="0.6" stroke-opacity="0.6" fill="none"/><path d="M542.5 100.7h2M541.9 148.4h2M542.2 100.8h2M541.6 148.5h2M544.7 83.5h2M543.8 152.3h2M544.4 82.2h2M544.5 152.7h2M545.3 84h2M544.9 156.6h2M545.4 85.3h2M545.6 157.3h2M547 85h2M548.1 159.4h2M547.7 87.1h2M547.1 159.4h2M548.9 88.2h2M548.9 158.4h2M548.4 86.6h2M548.2 157.7h2M551.2 86.7h2M549.9 162.4h2M550.1 86.1h2M549.8 161.9h2M551.5 76.9h2M551.8 161.9h2M553 76.2h2M552.8 163.1h2M554.2 77h2M554.2 165.5h2M554.6 75h2M553.4 164.6h2M555.5 81.1h2M555.7 169.5h2M556.3 81.2h2M555.9 167.3h2M556.9 83.2h2M556.6 159.5h2M556.8 81.7h2M556.7 159h2M555.8 164.7h2M548.8 82h2M541.5 80.7h2M549.8 75.4h2M547.5 164.3h2M544 163.7h2M553.5 69.4h2M557.3 75.8h2M542.4 88.3h2M552.8 77.6h2M553.6 77.8h2M551.3 169.8h2M557.4 161.2h2M550.6 77h2M553 162.7h2M555.4 78.7h2M556.7 74.2h2M542.1 157.8h2M547.8 166.6h2M542.1 85h2M551.6 77.2h2M551 78.8h2M549.4 74.5h2M555.9 164h2M552.7 77.5h2M547 80.5h2M554.1 71.3h2M556.7 73.5h2M555.4 78.9h2M553.9 68.6h2M557.2 163.8h2M550.6 70.9h2M549.8 168.9h2M550.6 76h2M547.2 164.3h2M543.1 161.7h2M544.9 164.8h2M551.2 163.1h2M545.2 166.8h2M554.5 75.6h2M542.3 159.1h2M556.1 72.6h2" stroke="#a8292c" stroke-width="2" fill="none"/><path d="M537.4 18.4h2.2M539.4 18.4h2.2M526.9 56.5h2.2M552.7 55.3h2.2M525.2 103.4h2.2M528.4 106.5h2.2M532.6 99.2h2.2M533.2 117h2.2M537.9 116h2.2M538.9 122.4h2.2M537.9 133h2.2M534.1 139.7h2.2M545.9 175.5h2.2M543.9 70h2.2" stroke="#a8292c" stroke-width="2.2" fill="none"/><path d="M562.2 42.2V42.2H563.9V32.6H565.6V39.6H567.3V37H569V68.7H570.7V63.5H572.4V65.9H574.2V60.6H575.9V59.7H577.6V65.8H579.3V54.8H581V81.4H582.7V97.9H584.4V91.2H586.1V102H587.8V90.6H589.5V92.3H591.2V77.3H592.9V75H594.6V77.2H596.3V85H598.1V71.4H599.8V69.7H601.5V58.3H603.2V60.4H604.9V62H606.6V54.8H608.3V129H606.6V140.4H604.9V141.5H603.2V144.4H601.5V145.8H599.8V145.3H598.1V157.3H596.3V148.1H594.6V161.9H592.9V157.4H591.2V163H589.5V154.3H587.8V156.7H586.1V160.9H584.4V159.1H582.7V159.6H581V156.4H579.3V151.6H577.6V148.2H575.9V143.1H574.2V153.3H572.4V142.2H570.7V144.9H569V147.4H567.3V138.5H565.6V125.8H563.9V138H562.2Z" fill="#ffb400"/><path d="M564.6 51.5v5M577.4 66.6v4.6M576.6 140.6v-9.5M581.1 153.6v-6M586 104.8v10.1M587.8 138.7v-3.1M591.3 139.2v-4.8M593.9 157.1v-7.8M602.3 59.5v6.5M608.3 69.6v12.7" stroke="#fff" stroke-width="0.6" stroke-opacity="0.6" fill="none"/><path d="M561.8 40.8h2M562.4 139.3h2M562.4 39.6h2M562.8 138.1h2M563.2 32.4h2M563.9 128.1h2M564 32.5h2M563.2 128.4h2M566.2 36.9h2M565.4 138.7h2M565 39.5h2M565.3 141h2M566.9 34.3h2M567.5 148.9h2M567.3 37h2M566.8 148.4h2M569.2 66.3h2M568.8 147.1h2M569.3 68.4h2M569.3 147.2h2M570.9 61.2h2M569.8 142.4h2M570.3 60.7h2M571.1 143.2h2M572.4 65.3h2M573.1 154.3h2M572.5 64.2h2M572.1 156.3h2M573.6 59.6h2M574.6 143.5h2M574.1 59.7h2M574.6 143.4h2M576 59.4h2M576.5 151h2M575 59.2h2M575.8 151.1h2M577.2 64.8h2M577.6 152.1h2M577.3 63h2M577 153.8h2M578.8 52.5h2M578.7 159.2h2M578.6 52.5h2M578.3 158.7h2M580.8 79.6h2M580.4 161.7h2M580.7 81.3h2M581.7 162.5h2M582.8 97.4h2M582.1 159.1h2M582.8 95h2M582.4 160.2h2M584.5 90.2h2M584.2 163.5h2M583.7 88.5h2M584.6 162.4h2M585.8 99.5h2M585.3 158.3h2M585.2 99.7h2M585.5 158.4h2M588.4 87.9h2M587.5 157h2M588.4 89.8h2M588.3 154.4h2M589.7 90.6h2M588.6 163.5h2M590.1 90.3h2M589.3 163h2M591.1 75.3h2M591.2 159.9h2M591.9 75.2h2M591.4 158.9h2M593.1 72.4h2M592.2 162.8h2M592.1 74.4h2M593.5 162.1h2M593.9 75.4h2M594 148.3h2M594.5 76.6h2M593.7 149.7h2M596.2 83.7h2M596.4 157.6h2M596.6 82.4h2M596.2 159.5h2M597.5 69h2M597.6 146.8h2M597.9 69.6h2M597.2 145.5h2M599.4 68h2M600 148.8h2M600.2 67h2M600.5 148h2M601.2 56.3h2M600.8 144.8h2M601.7 57h2M601.7 146.7h2M602.5 58.2h2M602.9 143.9h2M603.6 58.9h2M603.1 142.5h2M605.5 61.9h2M605.3 140.6h2M605.6 59.9h2M604.4 142.3h2M607.2 54.6h2M607.2 131.3h2M605.9 52.5h2M606.8 130.3h2M607 60.6h2M562.2 30.5h2M596 157.6h2M575.2 57h2M568.1 144.2h2M562.9 30.8h2M605.7 144.1h2M575.4 60.2h2M585.7 180.5h2M574 151.4h2M571 50.4h2M594.5 68.5h2M567.2 146.9h2M590.9 180.1h2M579.5 167.1h2M588.8 166.8h2M572.7 148.7h2M564.5 144.2h2M595.8 158h2M578.5 164.1h2M574.9 53.4h2M575.1 60h2M595.3 71.6h2M598.6 153.2h2M571.4 52h2M581.9 83.1h2M581.8 80.6h2M566.4 29.9h2M582.6 82.1h2M576.6 56.4h2M569.2 49h2M562.6 141h2M588.8 165.4h2M562.4 28.9h2M600 153.7h2M594.1 158.8h2M603.2 147.3h2M581 163.4h2M587.5 176.6h2M565.9 144.8h2M568.3 42h2M595.5 160.2h2M590.6 165.1h2M591 170.1h2M562.9 27.8h2M583.9 163.3h2M577.4 59.2h2M588.4 167.5h2M586.1 87.9h2M566.8 141.8h2M585.2 172.4h2M599.3 156.8h2M592.4 170h2M566.5 30.4h2M580.5 66.8h2M576.3 158.6h2M596 70.1h2M600.7 155.2h2M602.8 152.3h2M603.9 146.2h2M568.4 147.8h2M583.4 164.4h2M584.5 170.5h2M584.3 168.7h2M601.4 153h2M593.9 62.7h2M567.6 143.8h2M565.5 140.2h2M587.1 88.8h2M582.6 88.1h2M574.3 54.2h2M600 151.8h2M600.5 53.4h2M607 138.8h2M594.3 160.8h2M565.9 28h2M577.7 154.6h2M606.2 140.3h2M570.3 147.8h2M563.1 138.8h2M578.6 157.8h2M593.8 168.2h2M592.7 163.1h2M562.1 30.7h2M562.1 28.1h2M595.8 168.1h2M594.8 170.4h2M605.8 142.7h2M585.4 68.2h2M571.3 149h2M594.6 64.6h2M579.3 158.4h2M570.4 52.1h2M568.4 47h2M572.2 150.7h2M606.1 53.1h2M599.5 56.1h2M581.6 169.7h2M592.2 166h2M564 26.6h2M603.9 50.9h2M570.9 56.5h2M579.3 54.5h2M588.8 165.2h2M595.4 159.4h2M564.8 25.6h2M587.5 69.4h2M570.2 149.3h2M571.2 55.6h2M584.8 75.2h2M568.6 147.1h2M601.1 53.4h2M579.9 161.4h2M579.1 61.8h2M577.4 60.6h2M583 163h2M575.8 156.2h2M570.7 152.1h2M585.5 78.7h2" stroke="#ffb400" stroke-width="2" fill="none"/><path d="M603.9 18.4h2.2M581.9 175h2.2M588.9 178h2.2M581.9 186h2.2M585.9 180h2.2M574.9 168h2.2M593.9 176h2.2" stroke="#ffb400" stroke-width="2.2" fill="none"/><line x1="71.8" y1="85.2" x2="639.5" y2="85.2" stroke="#f03232" stroke-width="1.5" stroke-dasharray="5.2 4.3" stroke-dashoffset="1.2"/><path d="M107 116.2C108.2 117.8 112.5 124.8 114 125.8C115.5 126.8 115.2 123.5 116 122.2C116.8 120.9 117.8 118 118.6 118.2C119.4 118.4 120 122.9 120.7 123.2C121.4 123.5 122.2 119.2 123 120.2C123.8 121.2 124.8 128.2 125.5 129.2C126.2 130.2 126.1 126.7 127 126.2C127.9 125.7 129.1 128.1 131 126.2C132.9 124.3 137.4 116.5 138.7 114.6" fill="none" stroke="#000" stroke-width="1.5" stroke-linejoin="round" stroke-linecap="round"/><path d="M142.7 128.2C143.8 127.2 146.6 121.6 149 122.2C151.4 122.8 154.8 131.1 157.1 131.8C159.4 132.5 160.9 127.4 163.1 126.6C165.3 125.8 168.1 128.1 170.1 127.2C172.1 126.3 173.5 123.4 175.2 121.2C176.9 119 178.9 115.2 180.2 113.8C181.5 112.3 182 112.3 183 112.5C184 112.7 185.7 114.4 186.2 114.8" fill="none" stroke="#000" stroke-width="1.5" stroke-linejoin="round" stroke-linecap="round"/><path d="M190 126.2C190.8 122.4 193.9 106.3 195 103.2C196.1 100.1 196.1 106.5 196.6 107.8C197.1 109.1 197.3 110.3 198 111.2C198.7 112.1 199.8 112.7 201 113.2C202.2 113.7 204 114 205 114.2C206 114.4 206.1 114.7 207 114.2C207.9 113.7 209.1 110.5 210.6 111.2C212.1 111.9 213.3 114.2 216 118.2C218.7 122.2 224.9 132.4 226.7 135.2" fill="none" stroke="#000" stroke-width="1.5" stroke-linejoin="round" stroke-linecap="round"/><path d="M231.5 135.2C233.4 136.5 240.5 143.1 243.1 143.3C245.7 143.5 245.8 139.2 247.1 136.3C248.4 133.5 249.8 129.1 251.1 126.2C252.4 123.3 253.9 120.9 255.1 119.2C256.3 117.5 257.2 118 258.1 116.2C259.1 114.4 260 111.2 260.8 108.2C261.6 105.2 262 100.2 262.8 98.2C263.6 96.2 265.1 96.5 265.6 96.2" fill="none" stroke="#000" stroke-width="1.5" stroke-linejoin="round" stroke-linecap="round"/><path d="M269.4 114.6C272 117.7 280.4 133.3 285 133.2C289.6 133.1 294.5 119.2 297 114.2C299.5 109.2 298.7 106 300 103.2C301.3 100.4 303.7 97.9 304.7 97.2C305.7 96.5 304.4 91.3 306 99.2C307.6 107.1 312.8 136.8 314.1 144.3" fill="none" stroke="#000" stroke-width="1.5" stroke-linejoin="round" stroke-linecap="round"/><path d="M317.5 137.3C318.4 136.1 321.2 132.9 323.1 130.2C325 127.4 327.6 121.1 329.1 120.8C330.6 120.5 331.3 127.6 332.1 128.2C332.9 128.8 333.3 125.3 334.1 124.6C334.9 123.9 335.2 122.7 337.1 123.8C339 124.9 342.2 132.3 345.2 131.2C348.1 130.1 353.2 119.5 354.8 117.2" fill="none" stroke="#000" stroke-width="1.5" stroke-linejoin="round" stroke-linecap="round"/><path d="M359 95.2C359.3 98.2 360.3 112.9 361 113.2C361.7 113.5 362.3 99 363 97.2C363.7 95.4 362.9 95.3 365 102.2C367.1 109.1 373.5 134.5 375.7 138.3C377.9 142.1 376.9 130.2 378 125.2C379.1 120.2 381 110.4 382 108.2C383 106 383.4 111.7 384 112.2C384.6 112.7 384.7 109.2 385.7 111.2C386.7 113.2 389.3 122 390 124.2" fill="none" stroke="#000" stroke-width="1.5" stroke-linejoin="round" stroke-linecap="round"/><path d="M394.5 121.2C395.8 122.2 400.7 126.6 402.5 127.2C404.3 127.8 404 124.1 405.1 124.6C406.2 125.1 407.7 129.1 409.1 130.2C410.5 131.3 412.5 131.2 413.7 131.2C414.9 131.2 415.2 132 416.1 130.2C417 128.4 418 122.4 419.1 120.2C420.2 118 421.5 117.5 422.5 117.2C423.5 116.9 422.6 115.5 425.2 118.2C427.8 120.9 435.7 130.7 437.8 133.2" fill="none" stroke="#000" stroke-width="1.5" stroke-linejoin="round" stroke-linecap="round"/><path d="M442 111.2C442.9 112.2 445.8 114.5 447.4 117.2C449 119.9 450.3 126.5 451.4 127.2C452.5 127.9 453.1 122.4 454 121.2C454.9 120 455.8 118.7 456.6 119.8C457.4 120.9 457.9 126.6 458.6 127.8C459.3 129 459.7 129.1 460.7 127.2C461.7 125.3 463.6 118.2 464.7 116.2C465.8 114.2 466.1 114.7 467 115.2C467.9 115.7 468.4 115.2 470 119.2C471.6 123.2 475.6 136 476.7 139.3" fill="none" stroke="#000" stroke-width="1.5" stroke-linejoin="round" stroke-linecap="round"/><path d="M482.1 112.2C483.2 112.7 486.7 114 488.7 115.2C490.7 116.4 492.4 117.7 494.1 119.2C495.8 120.7 497.8 122.4 499.1 124.2C500.4 126 501.1 129.3 502.1 130.2C503.1 131.1 503.9 130.7 505.1 129.8C506.3 128.9 508 124.7 509.1 124.6C510.2 124.5 510.8 130.3 511.6 129.2C512.5 128.1 513.3 119.1 514.2 117.8C515.1 116.5 515.6 119.6 516.8 121.2C518 122.8 520.5 126.2 521.2 127.2" fill="none" stroke="#000" stroke-width="1.5" stroke-linejoin="round" stroke-linecap="round"/><path d="M526.8 82.3C527.3 82.7 528.8 83.8 530.1 84.8C531.4 85.8 533 87.8 534.8 88.6C536.6 89.4 539.4 87.9 540.7 89.7C542 91.5 542 94.8 542.8 99.2C543.6 103.6 544.8 110.2 545.7 116C546.7 121.8 547.7 132.2 548.5 134C549.3 135.8 549.8 130.4 550.6 126.6C551.4 122.8 552.4 111.5 553.3 111.4C554.2 111.3 555 125.2 555.9 126.2C556.8 127.2 558.1 118.6 558.6 117.1" fill="none" stroke="#000" stroke-width="1.5" stroke-linejoin="round" stroke-linecap="round"/><path d="M563.2 61.2C563.7 64.2 565.5 73.8 566.4 79.1C567.3 84.4 568 88.6 568.9 92.8C569.8 97 570.6 101.8 571.7 104.4C572.8 107 573.7 105.2 575.3 108.6C576.9 111.9 579.7 121.1 581.2 124.5C582.7 127.9 582.9 129.1 584.3 129.1C585.7 129.1 588.3 125.1 589.6 124.5C590.9 123.9 591.3 125 592.2 125.3C593.1 125.6 593.8 127 594.9 126.2C596 125.4 597 126.8 599.1 120.7C601.2 114.6 606.2 94.9 607.6 89.7" fill="none" stroke="#000" stroke-width="1.5" stroke-linejoin="round" stroke-linecap="round"/><path d="M71.2 10V198H643.6" fill="none" stroke="#333" stroke-width="1.1"/><line x1="68.7" y1="18.5" x2="71.2" y2="18.5" stroke="#333" stroke-width="0.8"/><text x="67.7" y="20.6" font-family='Liberation Sans, sans-serif' font-size="6.1" fill="#2a2a2a" text-anchor="end">1.0</text><line x1="68.7" y1="68.8" x2="71.2" y2="68.8" stroke="#333" stroke-width="0.8"/><text x="67.7" y="70.9" font-family='Liberation Sans, sans-serif' font-size="6.1" fill="#2a2a2a" text-anchor="end">0.5</text><line x1="68.7" y1="119.1" x2="71.2" y2="119.1" stroke="#333" stroke-width="0.8"/><text x="67.7" y="121.2" font-family='Liberation Sans, sans-serif' font-size="6.1" fill="#2a2a2a" text-anchor="end">0.0</text><line x1="68.7" y1="169.4" x2="71.2" y2="169.4" stroke="#333" stroke-width="0.8"/><text x="67.7" y="171.5" font-family='Liberation Sans, sans-serif' font-size="6.1" fill="#2a2a2a" text-anchor="end">-0.5</text><line x1="122.7" y1="198" x2="122.7" y2="200" stroke="#333" stroke-width="0.8"/><text transform="translate(124.2 202.5) rotate(-45)" font-family='Liberation Sans, sans-serif' font-size="5.9" fill="#222" text-anchor="end">Chr0</text><line x1="164.2" y1="198" x2="164.2" y2="200" stroke="#333" stroke-width="0.8"/><text transform="translate(165.7 202.5) rotate(-45)" font-family='Liberation Sans, sans-serif' font-size="5.9" fill="#222" text-anchor="end">Chr1</text><line x1="208.5" y1="198" x2="208.5" y2="200" stroke="#333" stroke-width="0.8"/><text transform="translate(210 202.5) rotate(-45)" font-family='Liberation Sans, sans-serif' font-size="5.9" fill="#222" text-anchor="end">Chr10</text><line x1="248.4" y1="198" x2="248.4" y2="200" stroke="#333" stroke-width="0.8"/><text transform="translate(249.9 202.5) rotate(-45)" font-family='Liberation Sans, sans-serif' font-size="5.9" fill="#222" text-anchor="end">Chr11</text><line x1="291.9" y1="198" x2="291.9" y2="200" stroke="#333" stroke-width="0.8"/><text transform="translate(293.4 202.5) rotate(-45)" font-family='Liberation Sans, sans-serif' font-size="5.9" fill="#222" text-anchor="end">Chr2</text><line x1="336.4" y1="198" x2="336.4" y2="200" stroke="#333" stroke-width="0.8"/><text transform="translate(337.9 202.5) rotate(-45)" font-family='Liberation Sans, sans-serif' font-size="5.9" fill="#222" text-anchor="end">Chr3</text><line x1="374.6" y1="198" x2="374.6" y2="200" stroke="#333" stroke-width="0.8"/><text transform="translate(376.1 202.5) rotate(-45)" font-family='Liberation Sans, sans-serif' font-size="5.9" fill="#222" text-anchor="end">Chr4</text><line x1="416" y1="198" x2="416" y2="200" stroke="#333" stroke-width="0.8"/><text transform="translate(417.5 202.5) rotate(-45)" font-family='Liberation Sans, sans-serif' font-size="5.9" fill="#222" text-anchor="end">Chr5</text><line x1="459" y1="198" x2="459" y2="200" stroke="#333" stroke-width="0.8"/><text transform="translate(460.5 202.5) rotate(-45)" font-family='Liberation Sans, sans-serif' font-size="5.9" fill="#222" text-anchor="end">Chr6</text><line x1="500.3" y1="198" x2="500.3" y2="200" stroke="#333" stroke-width="0.8"/><text transform="translate(501.8 202.5) rotate(-45)" font-family='Liberation Sans, sans-serif' font-size="5.9" fill="#222" text-anchor="end">Chr7</text><line x1="541.3" y1="198" x2="541.3" y2="200" stroke="#333" stroke-width="0.8"/><text transform="translate(542.8 202.5) rotate(-45)" font-family='Liberation Sans, sans-serif' font-size="5.9" fill="#222" text-anchor="end">Chr8</text><line x1="585.4" y1="198" x2="585.4" y2="200" stroke="#333" stroke-width="0.8"/><text transform="translate(586.9 202.5) rotate(-45)" font-family='Liberation Sans, sans-serif' font-size="5.9" fill="#222" text-anchor="end">Chr9</text><text transform="translate(38.2 103.4) rotate(-90)" font-family='Liberation Serif, serif' font-weight="bold" font-size="12.4" fill="#000" text-anchor="middle">Δ (SNP-index)</text><path d="M135.6 386.7h2M106.7 323.8h2M131.7 372h2M126.4 339.2h2M124.4 363.7h2M123.6 327h2M118.7 346.5h2M128.1 393.7h2M135.4 356.6h2M119.2 336.4h2M106.1 319.7h2M119.8 340.4h2M117.1 386h2M121.8 359.9h2M112.5 318.2h2M115.3 326.5h2M121.3 395.3h2M126.6 329h2M133.6 376.1h2M128.5 386.5h2M129.4 377h2M116.3 393h2M135.8 327.9h2M129.1 371.2h2M119.7 357.4h2M120.6 389.3h2M121 381.8h2M116.3 385.2h2M133.8 350.5h2M123.1 389.3h2M128.1 353.3h2M112 341.3h2M127.4 327.8h2M134 335.9h2M134.2 339h2M135.6 368.6h2M121.1 356.4h2M125.8 361.8h2M114.9 332.1h2M121.3 390.1h2M124.9 320.3h2M131.2 371.4h2M134 330.1h2M128.8 319.4h2M125.9 336.4h2M112.2 383.6h2M108.3 356h2M132.3 334.1h2M111.7 383.8h2M118.5 372.3h2M105.9 344.1h2M110.4 367.7h2M107.6 387.8h2M105.7 370.7h2M105.6 336.4h2M131 327.3h2M110.8 369.2h2M117.3 318.8h2M136.7 327.2h2M106.1 342.8h2M124.6 374.7h2M108.5 342.3h2M105.9 350.4h2M129.5 373h2M133.9 372.9h2M132.6 369.4h2M120.1 332.9h2M126.1 339.9h2M108.2 350.5h2M133 325.1h2M123.7 346.2h2M121.4 326.2h2M135.7 335.2h2M124.4 348.4h2M105.5 358.3h2M109.4 321.3h2M106 329.5h2M108 364.3h2M121.2 394.1h2M134.9 390.6h2M112.4 350.6h2M113 361.9h2M124.9 379.3h2M127.7 335h2M118.5 357.1h2M105.1 320.5h2M118 324h2M128.1 333.8h2M108.1 330.8h2M112.3 333.1h2M121.6 352.1h2M114.8 366.1h2M111.7 385.9h2M135.8 370.3h2M118.8 355.9h2M123.6 318.3h2M118.3 357h2M110.7 323.8h2M130.7 343.6h2M121.6 389.1h2M124.5 337.7h2M136.5 343.6h2M105.5 367.5h2M108.1 340h2M131.9 367.1h2M105.4 350.5h2M118.1 353.9h2M111.6 361.5h2M107.3 338.4h2M116.9 389.5h2M107.4 373h2M111.1 360.1h2M117.5 352.1h2M129.1 345.9h2M108.8 326.2h2M107.5 380.1h2M125.5 392h2M127.1 316.5h2M126.1 377.1h2M128.1 354.2h2M116.4 351.6h2M130.5 336h2M121.8 353.2h2M135.5 376h2M134.8 378.7h2M114.4 334h2M120.6 335.6h2M118.6 369.3h2M134.4 359.9h2M131.2 322.5h2M116.3 394.3h2M109.6 348.3h2M107 323.9h2M133.6 390.7h2M125.7 324.7h2M114.4 334h2M126.4 369.2h2M119 356.9h2M108.5 357.4h2M135.4 372.4h2M108 355.6h2M127.9 335.1h2M133.6 350.5h2M127.5 346.8h2M136.8 374h2M123.3 326h2M119.1 317.3h2M124 386.3h2M110.7 355.4h2M120.4 347.3h2M127.7 389.2h2M127.5 352.3h2M135.8 340.5h2M128.8 366.8h2M129.3 381.9h2M112.1 364.1h2M117.8 368.3h2M136.3 363.2h2M105.3 351.5h2M127.7 385h2M125.8 380.3h2M105.5 386.1h2M128.3 362.8h2M134 382.7h2M108.1 377.8h2M129.5 330.5h2M128.8 361.1h2M111 377.8h2M109.3 362.9h2M118.8 335.3h2M123.1 352.3h2M111.5 390.4h2M107.2 317.7h2M120.5 382.2h2M126 375.3h2M120.5 369.1h2M115.6 336.7h2M121 316.8h2M107.5 373h2M110.5 373.6h2M130.1 346.6h2M126.6 377.7h2M132.6 325.7h2M110.1 345.6h2M119.8 338.5h2M105.2 358.2h2M135.9 343.2h2M122.2 345.4h2M119.1 384.7h2M114.8 366.7h2M120.4 358.1h2M134.3 321.4h2M131.4 338.7h2M125.6 378.7h2M125.9 346.1h2M131.9 322.4h2M125.2 346h2M121.9 383.5h2M130.5 364h2M114.8 334.1h2M119.6 333.5h2M113.8 390.6h2M108.5 378.1h2M117.1 344.3h2M115.1 321.8h2M119.6 328.2h2M119.1 338.4h2M133.6 385.6h2M119.1 366.2h2M134.7 340.2h2M108.1 334.9h2M111 368.2h2M116.9 343.6h2M130.4 333.2h2M130.9 364.3h2M117.7 380.7h2M115.9 384.8h2M134.6 353.6h2M127 390.5h2M128.7 374.1h2M132.8 387h2M129.1 392h2M114.3 364.6h2M126.4 344h2M117.6 329.2h2M135.6 342.3h2M120.2 386.7h2M110.9 389.6h2M109 319.2h2M116.2 343.9h2M134.4 382.4h2M129.3 349.2h2M122.3 333.6h2M131.7 345.3h2M114 365.8h2M109.7 340.7h2M134.6 322.8h2M109.5 332.3h2M113 348.7h2M112.9 342.7h2M112.8 334.8h2M124.5 341.6h2M116.9 376.2h2M106.9 328.1h2M132.2 348.3h2M129.9 325.3h2M121.7 383h2M115.8 376.1h2M124.5 346.3h2M136.9 345h2M120.1 364.6h2M115.1 381.5h2M124.1 362.2h2M122.2 394.4h2M136.6 378.3h2M119.5 347.9h2M121.7 318.2h2M108.4 391.2h2M109 387.1h2M126.7 387.9h2M107.4 340h2M130.5 315.7h2M108.3 343.3h2M110.5 327.9h2M126.4 321.8h2M136.1 364.3h2M106.5 383.3h2M112.7 353.4h2M122.8 325.5h2M121 319.5h2M111.3 386.6h2M131.3 355.7h2M126.8 384.7h2M109.4 353.9h2M109.1 325.8h2M108.4 333h2M106.6 333.4h2M117.1 364.7h2M132.5 384.7h2M127.9 355h2M134.3 327.9h2M108.3 378h2M125 331.3h2M117 339h2M118.7 349.2h2M117.7 378.7h2M130.9 358.8h2M120.1 337.7h2M129.5 392.4h2M112.3 370.4h2M127.3 367.1h2M105.9 357.9h2M111.4 331.4h2M123.5 366.9h2M125 374.6h2M127.5 352.5h2M106.4 374h2M131.3 379.9h2M124.1 317.1h2M111.2 324.9h2M125.3 358.4h2M110.9 389.3h2M136.3 382.8h2M119.8 338.3h2M111.6 379.5h2M127.4 336.7h2M133.9 358.7h2M118.1 348.3h2M128 350.8h2M126.1 324.2h2M127.4 336.3h2M134.1 331.8h2M115.6 358h2M117.5 357h2M134.6 330.8h2M129.7 369.3h2M130.1 350h2M119.5 342.6h2M120.1 335.3h2M111 352.9h2M111.1 352.3h2M123.3 339.4h2M110.4 362.5h2M132.5 332.4h2M124.7 367.8h2M133.3 367.5h2M114.8 332.1h2M131.8 338.3h2M105.3 380.8h2M111.3 340.5h2M115.1 335.8h2M128.1 341.9h2M119 348.5h2M131.7 316.6h2M123.5 324.9h2M109.7 362.6h2M117 320.5h2M123.8 388.9h2M125.6 354.4h2M130.6 386.4h2M109.8 339.4h2M135.9 385h2M111.4 370.3h2M133 360.6h2M127.4 356.4h2M112.4 332.7h2M106.9 366.4h2M109.3 363.6h2M117.5 349.9h2M136.1 345.1h2M120.1 345.3h2M111.8 333.6h2M122 380.8h2M107.8 387.3h2M126.6 318.7h2M127.6 346.6h2M121.4 322.7h2M121.3 356.6h2M130 360.4h2M127.5 373.2h2M112 318.3h2M120.3 325.2h2M109.5 341.1h2M122.2 364.4h2M125.6 390.6h2M108.2 358.7h2M107.7 366.9h2M118.9 326.2h2M114.9 367.6h2M120.1 390.7h2M116.3 342.4h2M134.5 361.4h2M108.3 375.5h2M116.6 390.4h2M125.3 379.6h2M133.7 354.2h2M135.9 317.7h2M115.8 381.6h2M105.2 366.5h2M137 368.9h2M132.6 321.2h2M122.2 363.9h2M118.9 348.6h2M130.3 327.7h2M106.3 360.9h2M135.9 377.6h2M126.5 338.1h2M133.9 318.6h2M112.8 377.1h2M133.6 346.1h2M134.1 324h2M124.1 319.6h2M112.4 331h2M105.1 347.2h2M121 337.3h2M125.8 318.5h2M121.5 357.2h2M117.8 388h2M109 349h2M119.7 344.8h2M136.2 358.5h2M121.5 350.1h2M118.9 391.1h2M130.6 365.5h2M110.1 361.7h2M109 343.3h2M105.6 369h2M136.3 363.4h2M123.2 334.6h2M119.1 352.2h2M118.5 336.6h2M111.9 374h2M135.5 377.3h2M124.9 316.4h2M114.6 381.6h2M136.1 356.7h2M123.2 370.2h2M112.8 371.3h2M116.6 382.4h2M119.7 368.1h2M122.8 357.8h2M119.7 391.3h2M129.1 347.9h2M121.1 387.2h2M128.9 366.3h2M135.7 324.6h2M124.1 365.2h2M119.5 392.1h2M136 345h2M124.7 376.6h2M127.2 343.5h2M130.5 342.2h2M109.6 366.9h2M125.7 347.3h2M120.9 394.4h2M130.8 346.7h2M134.2 358.8h2M117.9 366.7h2M130.1 385.1h2M126.4 368.1h2M117.8 318.4h2M119.5 324.1h2M135.1 342.9h2M124.3 374h2M110.6 379.9h2M115.4 322h2M124.2 347h2M134.4 349.2h2M107.9 318.7h2M105.9 353.6h2M127.8 318.7h2M115.5 353.3h2M133.7 389.3h2M133 364.2h2M123.4 332.4h2M124.6 327.6h2M114.6 380.8h2M123.1 373.5h2M119.8 337.3h2M121.1 360.9h2M112.7 381.5h2M136.4 329.4h2M112.7 378.9h2M128.1 332.5h2M123.7 333.6h2M132.6 360.4h2M121.3 327.6h2M117.9 352.8h2M116.5 329.7h2M111.3 370h2M134.6 379.3h2M124.6 378.6h2M109.2 332.8h2M127.5 314.7h2M107.6 374.9h2M111.2 330.7h2M117.6 381.8h2M105.2 381.3h2M114.7 360.6h2M120.1 324.6h2M135.7 329h2M130.7 383.5h2M119.5 391.9h2M106.9 328.4h2M120.4 320.7h2M130.8 356h2M130.5 337.3h2M105.8 382.4h2M111.6 348.4h2M108.9 360.9h2M119.8 330.7h2M106.2 342.3h2M130.1 327h2M112.2 363.9h2M125.3 379.5h2M125.6 383.1h2M109.9 386.3h2M105.8 326.4h2M108.2 374.8h2M121.1 389.1h2M136.2 386.8h2M124.6 342.8h2M135.6 370.6h2M111.2 358.7h2M105.6 319.1h2M125.4 372.6h2M132.5 373.1h2M109.3 372.3h2M136.4 366.2h2M120.3 338.5h2M106.9 363.4h2M135.8 324.4h2M131.2 384.7h2M116.2 382.3h2M109.9 339.5h2M123.1 386h2M122.1 321.6h2M134.7 358.7h2M129.9 332.9h2M115.6 322.8h2M110.9 349.9h2M118.1 367.5h2M131.7 341h2M134.6 364.9h2M116 330.2h2M135.6 365h2M106.3 367.6h2M117 348.7h2M129.5 332.4h2M113.5 358.1h2M133.9 322.1h2M131.7 370.9h2M110.6 366.9h2M124.8 372h2M122.1 339.9h2M121 333.8h2M119.5 347.5h2M108.3 334.5h2M116 346.6h2M123 375.1h2M113.2 359.2h2M115.7 333.5h2M109.4 389h2M134.8 378.3h2M110.4 328.2h2M108.2 339.6h2M118.6 315.7h2M118.5 370.1h2M131.7 329.9h2M105 375.3h2M117.1 340.2h2M109.9 337.1h2M113.4 336.1h2M112.4 356.2h2M131 339.1h2M118.3 353.7h2M131.9 374.3h2M136.5 328.8h2M130.8 338h2M123.4 357.2h2M123.3 340.4h2M107.2 318.1h2M134.7 382.5h2M119.7 322.1h2M131.8 353.9h2M120 366.2h2M110 333.4h2M131.1 372.1h2M136.5 348.1h2M136.1 382.1h2M121.2 386.7h2M110.1 322.2h2M131 326.1h2M121.4 374.2h2M126.7 332.1h2M130.2 318.3h2M122.9 387.4h2M122.4 338.9h2M136.9 369.8h2M130.3 385h2M134.9 358.9h2M131.4 354h2M113.1 337.7h2M113.3 318.1h2M124.8 346.7h2M134.1 319.4h2M130 330.2h2M115.3 338.7h2M135.6 364.1h2M119.9 329.6h2M106.4 344.5h2M136.2 349h2M126.6 385.2h2M106.4 341.1h2M118.3 333.2h2M117.2 369.4h2M109.2 369h2M114.4 367.3h2M110.5 376.5h2M118.4 381.5h2M136 359.2h2M105.6 344.4h2M136.2 364.4h2M129.2 352.3h2M135.1 383.9h2M124.6 362.2h2M108.2 317.8h2M111.5 371.6h2M132.1 374.5h2M133.4 317.8h2M105.8 336.3h2M105.5 360.3h2M134.7 383.4h2M108.3 306.7h2M126 308.5h2M133.3 398.7h2M122.4 314.1h2M112.6 313.5h2M126.3 303.2h2M133.8 391.5h2M123.6 303.9h2M127.1 298.9h2M109.1 303.9h2M108.3 310.1h2M111.8 313h2M131.2 306h2M114.3 399.8h2M137 315.7h2M107.8 310.5h2M124.4 397.9h2M124.9 296.1h2M125.6 313.3h2M125.7 311.5h2M109.1 310.5h2M120.3 313.2h2M116.9 305.1h2M111.3 312.2h2M109.3 308h2M115.3 394.3h2M106.4 316.6h2M130.2 400.5h2M111.5 302.2h2M108.5 316.2h2M124 400.3h2M129 302h2M134.1 398.5h2M107.5 305.8h2M122.1 397.1h2M130.8 301.5h2M128.5 313.9h2M105.9 317.8h2M125.9 296.4h2M125.6 399.3h2M136 300.6h2M107.2 302h2M129.3 299.2h2M111.1 395.3h2M132.2 296.2h2M124.9 298.9h2M123.7 397.1h2M119.1 307.9h2M115.1 302h2M118.7 303.2h2M127.7 401h2M118 399.3h2M106.7 307.1h2M117.8 314.1h2M129 400.5h2M129.1 400.4h2M110.2 397.3h2M129 311.2h2M117.4 397.4h2M126.6 313h2M106.8 391.9h2M134.2 392.6h2M110.8 309.4h2M107.6 311.3h2" stroke="#a8292c" stroke-width="2" fill="none"/><path d="M105.9 296.7h2.2M124.6 290.1h2.2M132.3 293h2.2M115.9 405.9h2.2" stroke="#a8292c" stroke-width="2.2" fill="none"/><path d="M141.4 323.6V323.6H143.1V323.9H144.8V320.9H146.5V322.1H148.2V324.6H149.8V322.8H151.5V316.8H153.2V328.5H154.9V325.7H156.6V318.8H158.3V318.7H160V323.3H161.7V328.3H163.4V337.6H165V332.6H166.7V328.8H168.4V325.6H170.1V327.6H171.8V328.4H173.5V319.9H175.2V316.3H176.9V304.8H178.6V297.1H180.2V304.1H181.9V291.1H183.6V297.9H185.3V303.4H187V383H185.3V381.3H183.6V380.1H181.9V385.3H180.2V385.2H178.6V390.3H176.9V380.2H175.2V389.1H173.5V394.1H171.8V388.6H170.1V401.6H168.4V396.6H166.7V385.9H165V393.8H163.4V390.7H161.7V398.4H160V390.9H158.3V406.7H156.6V393.9H154.9V394.7H153.2V391.7H151.5V391.1H149.8V392H148.2V394.7H146.5V397.6H144.8V393.8H143.1V396.1H141.4Z" fill="#ffb400"/><path d="M153.1 386.7v-4.9M153.9 337.9v12M153.9 379.1v-3.2M156.2 387.2v-4.3M157 334.6v4.3M157 404.9v-9.6M161.2 392.8v-7.9M169.8 331.6v6.9M172.4 342.4v8.2M177.7 322.3v6.5M183.7 364.8v-6.8M185.4 320.8v5.3" stroke="#fff" stroke-width="0.6" stroke-opacity="0.6" fill="none"/><path d="M140.8 321.1h2M142 396.8h2M141.2 322h2M141.2 399h2M143.2 322.3h2M143.5 394.1h2M142.9 321.4h2M142.4 394.4h2M144.3 318.6h2M144.8 399.4h2M144.8 319.7h2M145.4 399.4h2M147.1 320h2M145.6 397.1h2M145.8 320.3h2M145.8 394.9h2M148.2 323.3h2M147.7 393.6h2M147.6 323.8h2M148.5 393h2M149.4 322.8h2M150.3 393.3h2M150.1 320h2M149.5 392.3h2M152.1 316h2M150.6 392.2h2M151.6 316.1h2M152.1 392h2M152.4 326.5h2M152.7 397.5h2M153.6 327.7h2M153.1 396.4h2M154.9 324h2M154.6 395.1h2M154.6 322.7h2M154.8 394.2h2M156.4 316.3h2M156.1 409.5h2M157 318.7h2M156.4 408.3h2M157.3 316.2h2M157.7 390.9h2M158.7 315.8h2M158.4 393.2h2M159.4 322.2h2M159.4 399.2h2M160.4 323.3h2M159 399h2M162.2 326.6h2M160.7 391h2M161.4 328h2M161.2 391.5h2M163.1 337.4h2M163.1 394.3h2M163.3 335.1h2M163 395.9h2M165.5 331.1h2M164.5 387.9h2M165.5 329.6h2M164.7 386.7h2M166.8 328.7h2M165.9 397.1h2M167.4 327.8h2M167.1 397.3h2M168 323.3h2M168.9 402.3h2M167.9 324.1h2M168.2 403.5h2M169.2 326.3h2M170 389.1h2M170.6 325.8h2M170 389.4h2M172 328.3h2M172.1 396.1h2M172 326.8h2M172.2 396.9h2M173.6 317.5h2M173 390.9h2M172.9 318.1h2M172.5 390.7h2M174.5 316.3h2M175.1 381.3h2M174.8 314.5h2M175.5 382.8h2M176.9 303.4h2M177.2 390.4h2M177.2 304.3h2M176.2 392.3h2M177.7 295h2M177.9 386.3h2M178.3 295h2M178.9 387.1h2M180.5 303.4h2M180.4 386.4h2M179.7 303.5h2M180.5 386.8h2M181.3 288.6h2M181.3 381.3h2M181.7 290.7h2M181.5 380.1h2M183.2 295h2M182.8 381.7h2M183.5 295.9h2M183.6 381.4h2M185.6 303.2h2M185.1 385.1h2M185.6 301.4h2M186 385.2h2M156.7 314.7h2M170.3 321.7h2M146 318.9h2M185.6 383.2h2M153.5 319.7h2M156.4 321h2M161.3 400h2M167 315.9h2M173.3 398.2h2M148.9 306.9h2M144.1 307.3h2M181.2 297.5h2M163.8 402.5h2M169.6 397.5h2M163.9 398.4h2M156.5 315.8h2M151.9 401.9h2M141.5 314.3h2M180.2 298.8h2M177.3 390.3h2M152 315.2h2M153.2 400.3h2M170.2 313.5h2M148.7 405.7h2M165.8 322.3h2M179.3 392.4h2M174.2 318.6h2M140.9 313.8h2M141.2 308.8h2M173.8 399.9h2M174.5 311.7h2M175.4 304.2h2M177.1 301.1h2M182.4 385.8h2M162.5 315h2M142.7 398.5h2M181.1 294.7h2M157.7 404.8h2M179.9 388.1h2M156.2 319.3h2M158.9 406.3h2M160.8 314h2M171.9 397.9h2M155.6 403.9h2M153.9 311.3h2M147.4 313.4h2M154.3 402h2M163.4 315.6h2M165.5 321.9h2M178.4 295.2h2M158.9 316.3h2M168.4 404.7h2M161.7 399.4h2M166.9 402.3h2M152.7 400.6h2M164.8 406.2h2M181.5 389h2M169.3 403.5h2M184.8 300.6h2M149.6 315.1h2M171.8 397.3h2M158.9 400h2M170.4 396.3h2M149.4 307.9h2M183.8 387.8h2M149.8 408.6h2M147.2 312.9h2M180.5 391.9h2M175.4 393.2h2M143.1 317.9h2M174.2 316.8h2M142.5 315.5h2M181.7 389.5h2M174.9 396.4h2M150.5 407.2h2M169.8 318.3h2M178.9 293.6h2M179.6 295.9h2M176.4 297h2M160 320.2h2M164.8 400.7h2M170.4 396h2M161 318.9h2M168.2 401.3h2M177.8 298.9h2M168.4 320.4h2M173.6 311.4h2M182.4 384.9h2M158.5 315.1h2M173.2 319.3h2M159.2 318.2h2M183.4 387.3h2M146.3 402.8h2M172.5 311h2M157.3 409.7h2M184.7 384.1h2M147.6 401.1h2M180.2 295h2M162.6 320.6h2M149.8 409.5h2M148.8 408h2M173.5 318.7h2M177.6 392.6h2M142.9 315.6h2M159.3 411.5h2M178.3 391.7h2M179.1 387.8h2M185.3 303.6h2M157.2 311.6h2M146.7 401.6h2M165.3 397h2M153.4 400.1h2M171 316.3h2M141.3 310.2h2M140.9 312.4h2M162 315.2h2M158.9 314.2h2M168.7 395.7h2M151.2 403.5h2M175.9 391.1h2M158.5 317.1h2M148.3 306.2h2M149.8 309.8h2M159.2 321.4h2M185.2 386.1h2M147.1 315.9h2M178.8 386.9h2M184.2 301.4h2M148.5 319.8h2M164.4 313.2h2M148.4 315.2h2M141.9 399.2h2M144.1 406.3h2M185.7 300.4h2M175.5 310h2M178.3 390.6h2M148.6 308.4h2M155.6 405.7h2M145.9 400.3h2M151.7 316.5h2M185.6 298h2M185.7 297.1h2M143.8 403.3h2M152.5 320.7h2M182.9 388.8h2M172.2 395.8h2M161.9 408.7h2M171.5 401h2M173 311h2M154.8 318.9h2M181.2 296.7h2M144.6 403.8h2M159.7 400.7h2M179.1 297.5h2M157.5 405.2h2M182.6 386.4h2M168.4 399h2M151.3 404.8h2M178.4 293.1h2M169.8 314.4h2M184.4 295.9h2M167.7 312.7h2M152.9 309.6h2M172.2 319h2" stroke="#ffb400" stroke-width="2" fill="none"/><line x1="153" y1="322" x2="153" y2="392" stroke="#fff" stroke-width="0.9" stroke-opacity="0.85"/><line x1="171.5" y1="326" x2="171.5" y2="392" stroke="#fff" stroke-width="1" stroke-opacity="0.85"/><path d="M151.4 241.9h2.2M171.1 241.9h2.2M178.3 252.8h2.2M144.8 265.3h2.2M145.9 270.4h2.2M143.9 278h2.2M153.1 285.7h2.2M157.9 285.7h2.2M170.7 274.8h2.2M178.3 279.8h2.2M142.6 288h2.2M160.8 296.7h2.2M151.4 420.2h2.2M157.9 409.2h2.2M164.1 411.8h2.2M170.7 407.9h2.2" stroke="#ffb400" stroke-width="2.2" fill="none"/><path d="M189.7 305.3V305.3H191.4V294.2H193.1V284.3H194.8V291.4H196.5V297.6H198.2V311.6H199.9V301.9H201.6V310.3H203.3V304.2H205V305.8H206.7V309.1H208.4V310.1H210.2V310.5H211.9V314.7H213.6V318.3H215.3V308.2H217V312.3H218.7V311.5H220.4V313.6H222.1V310.2H223.8V320.8H225.5V328.2H227.2V401.7H225.5V394.1H223.8V402.9H222.1V395.2H220.4V394.1H218.7V390.7H217V394.4H215.3V382.4H213.6V384.3H211.9V381.1H210.2V390.7H208.4V385.9H206.7V384H205V374.2H203.3V375.1H201.6V385.7H199.9V381.3H198.2V378.8H196.5V380.9H194.8V385.3H193.1V389.3H191.4V384.5H189.7Z" fill="#38560e"/><path d="M193.6 302.4v11.2M195.9 294.4v5.3M198.9 365.3v-6.1M200.2 382.6v-10.5M211 363.6v-4.6M214.8 379.8v-9.4M217.4 323.2v12.9M220 328v13.8M222.2 328.5v9.9M224.3 377v-8" stroke="#fff" stroke-width="0.6" stroke-opacity="0.6" fill="none"/><path d="M190.1 303.5h2M189 386.1h2M190.3 304.6h2M189.9 385.2h2M190.7 292.5h2M190.5 391.5h2M191.4 293.2h2M191.5 390.4h2M193.8 281.7h2M192.4 388h2M192.6 281.7h2M192.5 387.9h2M194.9 290.4h2M195.1 383.6h2M194.7 288.8h2M194.4 382.2h2M195.9 296.4h2M197 380.4h2M195.6 295.2h2M195.8 380.2h2M197.4 308.7h2M197.6 381.8h2M198.4 309.3h2M198.4 382.9h2M199.9 300.1h2M199.3 388.3h2M199.5 300.2h2M199 387.7h2M201.6 307.9h2M200.9 376.3h2M202 308.1h2M202.2 377.3h2M203.7 303.5h2M203 375.5h2M203.6 303.9h2M202.5 377h2M204.2 303.3h2M204.3 386.4h2M204.4 303.7h2M205.4 385.6h2M206.5 307.4h2M206.3 387.2h2M207.3 306.4h2M207.2 388.7h2M207.7 307.7h2M207.8 391.3h2M208 307.4h2M207.9 391.2h2M210.4 309h2M209.5 381.5h2M210.6 309.8h2M209.6 382.9h2M211.6 312h2M211.8 385.9h2M211.4 313.7h2M211.6 386.7h2M213.1 317.3h2M213.4 382.7h2M213.4 315.5h2M212.8 385.3h2M215.6 307.3h2M215.5 395.2h2M215.6 306h2M215.3 395.8h2M217.4 312h2M216.1 391.7h2M216.9 310.1h2M217.1 391.5h2M219.2 310.2h2M218.5 396h2M217.9 309h2M218.7 396.2h2M221 312.2h2M220.3 396.5h2M220.1 313.4h2M220.5 396.7h2M222.5 308.7h2M221.3 404.3h2M221.5 308.6h2M221.1 404.9h2M223.5 317.9h2M224.3 395.4h2M224.2 320.1h2M224.4 396.1h2M224.7 327.2h2M226.1 403.4h2M225.4 326.2h2M224.7 402.1h2M189.3 296.6h2M197.2 387.5h2M196.9 295.1h2M224.4 308.7h2M192 288.1h2M225.9 315.2h2M189.9 387.8h2M207.4 391.4h2M195.9 391.9h2M225.4 313.2h2M197.2 391.7h2M199.9 393.2h2M203 382.9h2M198.2 289.8h2M207.4 299.7h2M202.1 302.3h2M193 394.3h2M223.2 410h2M218.5 397.9h2M212 398.1h2M213.8 295.5h2M223.7 310.4h2M197.4 386.6h2M202.2 303h2M194.7 277.2h2M215.7 399.6h2M216.2 399.4h2M222.3 303.9h2M224.9 310.7h2M199.7 390.1h2M200.4 297.1h2M221.4 311.6h2M207.6 298.2h2M205.4 303.3h2M217.7 308.6h2M207 394.7h2M208 390.8h2M208.9 294.8h2M193.4 278.6h2M210.1 297.2h2M202.3 302.7h2M191.7 286.6h2M191.4 289.3h2M198.9 290.2h2M191.5 291.3h2M204.9 304.1h2M223.3 403.5h2M208.8 303.9h2M189.4 294.6h2M193.1 283.5h2M195.7 289.7h2M224.8 304.9h2M189.7 391.2h2M197.8 289.9h2M198.8 300.6h2M208.7 302.4h2M215.8 302.6h2M192.1 281.6h2M203.4 390.7h2M208.2 394.4h2M218.7 305.2h2M209 297.5h2M210.8 300.9h2M207 300.7h2M225.7 314.6h2M188.9 388.5h2M207.6 393h2M214.6 401.6h2M196.4 290.9h2M212.6 399.6h2M221.9 405h2M197.5 298.3h2M193.6 279.4h2M217.7 395.1h2M225 404.3h2M213.6 302.1h2M207.4 295.5h2M194.7 280.4h2M195.3 389.6h2M202.6 384.7h2M192.5 389.1h2M200.7 393.7h2M207.6 296.7h2M216.8 403.4h2M202.5 290h2M217 296.7h2M212.6 305.8h2M224.1 315h2M194.5 281.7h2M224.6 309.8h2M218.9 401.8h2M201.4 388.6h2M200.3 290.4h2M205.7 299.8h2M201.9 391.1h2M209.8 387.3h2M213.1 299.6h2M191 288.7h2M219.6 300.8h2M217.3 304h2M205.9 291.8h2M224 304.7h2M225.3 412.3h2M208.7 394.2h2M218.3 307.5h2M198.7 383.5h2M211.5 390.2h2M216 399.8h2M200.1 294.4h2M208.7 294.1h2M221.1 302.7h2M203.4 300.7h2M191.9 282.4h2M191.5 290.7h2M201.1 295.1h2M196.9 388.8h2M208 389.1h2M225.6 407.7h2M204.9 294.1h2M218.7 406.5h2M216.7 392h2M214.7 391.5h2M219.5 299.8h2M195.5 288.2h2M207.6 290.4h2M208.3 386.6h2M202 385.2h2M214.8 396.4h2M193.8 395.7h2M212.1 303.2h2M192.2 392.3h2M209.9 391.9h2M209.3 291.1h2M213 397.5h2M195.2 389h2" stroke="#38560e" stroke-width="2" fill="none"/><path d="M200.3 241.9h2.2M195.3 268.8h2.2M208 278h2.2M220.1 278h2.2M211.3 419.5h2.2M223.8 417.3h2.2" stroke="#38560e" stroke-width="2.2" fill="none"/><path d="M240 341.4V341.4H241.7V351.1H243.5V341.4H245.2V333.9H247V329.4H248.7V326H250.5V318.8H252.2V323.9H253.9V329.3H255.7V318.9H257.4V302.4H259.2V308.5H260.9V298.8H262.7V293.9H264.4V383H262.7V379.7H260.9V386.8H259.2V387.1H257.4V386.7H255.7V392.8H253.9V389H252.2V392H250.5V392.1H248.7V398.4H247V404.1H245.2V398.2H243.5V397.1H241.7V396.7H240Z" fill="#15806f"/><path d="M240.9 383.8v-10.1M244 360.4v3.3M248.7 340.2v4.4M251.9 326.4v3.4M251.8 373.6v-9.6M255.9 325v13M259.1 306.5v10.3M258.4 367.4v-9.6" stroke="#fff" stroke-width="0.6" stroke-opacity="0.6" fill="none"/><path d="M239.5 340h2M239.4 399h2M240.7 339.2h2M240 397h2M240.9 350.1h2M241.6 398.9h2M241.1 348.4h2M241.6 399.3h2M242.7 341.3h2M242.5 400.6h2M244 340.3h2M243.3 399.9h2M245.4 332.2h2M244.4 404.4h2M245.5 332.5h2M245.7 406.3h2M247.3 328.6h2M247.7 401.3h2M247.7 328.2h2M246.3 399.8h2M248.6 325.8h2M248.7 394.4h2M249.3 325.7h2M249 392.4h2M250.7 315.9h2M249.9 392.8h2M250.7 317.5h2M250.5 394.5h2M252.2 321.9h2M252 391.2h2M251.6 321.5h2M251.9 390.3h2M253.5 329.1h2M253.9 394.3h2M253.3 326.9h2M253 395.4h2M255.3 317.6h2M256.1 386.9h2M256.1 318.8h2M255.8 386.9h2M256.9 302.1h2M256.9 387.7h2M256.8 302.1h2M256.8 388.3h2M259.2 306.3h2M259.5 387.8h2M259.4 308.4h2M259.7 388.9h2M261.4 297.8h2M261.4 379.9h2M260.4 296.4h2M260 381.9h2M262.9 293.5h2M261.8 383.3h2M262 293h2M262.6 383.9h2M256.4 391h2M262.2 299.2h2M255.9 397.7h2M246.7 405.5h2M262.7 298.9h2M259.9 298.3h2M247.9 401.7h2M239.7 340.5h2M248.6 405.7h2M239.5 330h2M248 324.7h2M240.9 329.7h2M247.4 317h2M242.6 334.8h2M240.5 332.4h2M255.6 307.4h2M263.2 291.7h2M242.4 329.4h2M256.3 389.8h2M262.2 389.6h2M243.8 407h2M245 321.2h2M240.6 405.3h2M256.1 308.7h2M260.8 287.8h2M250.9 399.6h2M260.7 386.7h2M251.2 402.7h2M254.5 393.4h2M240.2 338.5h2M255.4 394.4h2M243.2 334.4h2M246.5 319.9h2M251.7 317.8h2M256.8 308.2h2M262 296.7h2M254.7 311.4h2M259.7 298.3h2M250.7 322.2h2M260.3 289.5h2M262.3 389.6h2M247.9 318.4h2M247.5 326.2h2M258.4 394h2M249.2 316.6h2M245.6 326.4h2M259 290.4h2M256.2 301.1h2M263 288h2M248 401.6h2M256.7 306.6h2M248.8 315.7h2M253.5 307.8h2M253.1 395.3h2M250.6 310.5h2M248.8 321h2M258.1 299.4h2M254.8 313h2M247.3 323.1h2M261.3 385.9h2M245.8 404h2M248.8 325.4h2M258.1 390.2h2M263.2 383.7h2M263.1 383.9h2M241.3 330.9h2M257.2 392.6h2M241.6 327.7h2M255.8 301.2h2M260.1 290.7h2M241.2 407.5h2M247.2 404h2M262.2 293.1h2M251.2 316.2h2M254.7 307.3h2M253.9 394h2M247.5 403.8h2M253.2 403.3h2M257.2 398h2M240.5 333.8h2M252 404.6h2M256.6 297.5h2M250 318.6h2M261.5 383.8h2M263.2 297h2M249.6 400.1h2M251.7 397.8h2" stroke="#15806f" stroke-width="2" fill="none"/><path d="M234.9 370.2h2M232.3 398.1h2M238 393.8h2M237.5 397.4h2M232.5 385.1h2M233.9 346.1h2M236.6 367.4h2M232.6 367.8h2M233.9 372h2M237 385.2h2M232.9 356.6h2M232.4 397.2h2M238.8 348.1h2M233.6 367.6h2M231.5 375.7h2M236.1 346.7h2M233 378.3h2M238.5 340.7h2M236.6 392.3h2M236.8 400.9h2M232.7 345h2M238.7 364h2M236.3 368.9h2M235.4 333.6h2M231.1 337.9h2M237.8 337.2h2M233.7 341.1h2M235.9 378.3h2M237.3 383.6h2M237 345.3h2M234.3 398.7h2M234.2 388.8h2M235.1 353.7h2M238.3 336.1h2M236 384.8h2M237.5 336.2h2M235.7 353.6h2M236.1 335.3h2M234.5 365.7h2M232.8 351.2h2M236.8 371.7h2M233.8 363.2h2M235.8 373.5h2M236.3 396.8h2M238.8 341.6h2M234.6 371.4h2M231.6 350.1h2M232 359.1h2M233.3 337.5h2M236.5 384.2h2M232.4 343h2M233.2 382h2M231.5 380.1h2M238.6 350.2h2M232.4 372.3h2M237.7 345.7h2M231 360.8h2M233.9 340.7h2M237.3 336.5h2M236.1 350.4h2M231.4 358h2M233.9 356.4h2M235.9 364.4h2M233.2 345.6h2M235.6 390.6h2M237.7 402.3h2M233.4 329.8h2M237 402.8h2M238 402h2" stroke="#15806f" stroke-width="2" fill="none"/><path d="M237.6 291.6h2.2M261.1 275.9h2.2" stroke="#15806f" stroke-width="2.2" fill="none"/><path d="M269.2 328V328H270.9V323.2H272.6V331.3H274.3V335.5H276V333.3H277.7V333.8H279.4V338.2H281.2V344.5H282.9V335.5H284.6V341.6H286.3V346.9H288V341.5H289.7V341.8H291.4V337.1H293.1V333.2H294.8V328.5H296.5V314.9H298.2V310.1H299.9V298.9H301.6V295.8H303.3V291.5H305.1V286.5H306.8V302H308.5V313H310.2V320.6H311.9V321.5H313.6V335.2H315.3V403.9H313.6V399.9H311.9V399.6H310.2V393.6H308.5V389.5H306.8V380.8H305.1V377.4H303.3V374.8H301.6V373.2H299.9V386.5H298.2V386.8H296.5V389H294.8V391H293.1V387.9H291.4V402.6H289.7V388.6H288V392.9H286.3V400.4H284.6V388.6H282.9V393.2H281.2V380.4H279.4V390.3H277.7V383.3H276V390.6H274.3V377.9H272.6V382.9H270.9V380.5H269.2Z" fill="#3a55e0"/><path d="M270.2 335.2v13.2M269.4 369.7v-9.7M278.9 345.1v11.3M280.6 339.6v9.7M284.4 387.1v-11.1M286.1 351.6v8.9M288.9 345.6v11.5M288.5 383.4v-9.6M291.2 359.7v4.3M295.3 350.3v11.8M295.2 375.5v-7.4M296.7 321.3v6.5M301.8 354.9v-4.9M306.2 299.7v3.4M314.1 398.1v-5.4" stroke="#fff" stroke-width="0.6" stroke-opacity="0.6" fill="none"/><path d="M268.3 326h2M268.7 381.9h2M268.5 326.8h2M269.7 381.3h2M270.5 322h2M270.8 384.8h2M271 323.2h2M270.7 385.9h2M271.7 330.5h2M273.2 379.1h2M272.4 330.4h2M271.7 379.6h2M273.4 335h2M273.8 391.7h2M274 335.3h2M274.9 391.8h2M275.7 331.1h2M275.5 385.4h2M275.3 330.8h2M276.6 384.1h2M277.4 331h2M277.8 393h2M277.6 332.1h2M278.1 392.9h2M278.8 337.9h2M279.5 381.2h2M279.7 338.2h2M279.6 380.6h2M281.6 342.7h2M280.5 395.9h2M281.8 343.3h2M281.8 395h2M283.4 333.3h2M283.4 390.6h2M282.3 333.2h2M281.9 389.7h2M283.9 340.5h2M284.5 400.4h2M285.2 339.8h2M284 402.2h2M286.8 345.2h2M285.5 395h2M286.9 344.9h2M285.6 394.7h2M287.7 339.3h2M287.2 390.7h2M288.6 340.2h2M287.4 389.3h2M289.1 341.1h2M289.3 404.7h2M289.4 341.1h2M288.7 403.2h2M291.5 336.8h2M291.4 389.5h2M290.9 335.4h2M290.6 389.3h2M293.5 331.7h2M293.5 393.2h2M292.9 332.6h2M292.6 392.2h2M293.9 325.8h2M294.9 390.7h2M294.3 326.3h2M294.2 391.8h2M295.9 313.1h2M295.7 389.5h2M297.1 312.8h2M295.7 387.6h2M297.9 308.6h2M297.6 387.9h2M298.6 308.7h2M297.9 388.7h2M300.2 297.2h2M299.2 375.4h2M300.2 297.1h2M299.9 374.9h2M302.2 293.7h2M300.7 376.2h2M300.7 293.1h2M301.8 377.1h2M302.7 289.2h2M302.6 378.2h2M303.1 291.3h2M303 379h2M305.6 284.8h2M305.4 381.1h2M304.8 285.4h2M304.9 383.5h2M306.7 300.2h2M306.1 391.2h2M306.8 299.5h2M306.1 391h2M308.7 312.3h2M308.8 396.4h2M307.6 312.3h2M308.7 394.3h2M310.3 320h2M310 399.7h2M310.3 318.4h2M309.5 399.7h2M312.2 320.9h2M311 402.5h2M311 320.2h2M311.5 401.6h2M312.7 333.3h2M313.1 406.7h2M313.1 334.6h2M313.4 405h2M311.7 401h2M281.6 393.3h2M295.3 394h2M271.1 317.8h2M307.9 401.7h2M294.2 322.2h2M307.3 403.1h2M270.2 307.8h2M297.9 383.7h2M301.8 386.5h2M285.5 338.2h2M274.5 311.5h2M298.4 290.8h2M290.1 331.2h2M309.6 305.3h2M279.1 319h2M288.4 338.9h2M274.7 319.9h2M297.3 296.3h2M309.1 406.6h2M280.6 396h2M273.8 388.7h2M296.6 307.4h2M291.2 403.4h2M312.6 321.9h2M304.3 387.1h2M299.5 383.4h2M269.9 393.9h2M296.2 308h2M270.6 315h2M306.3 394.4h2M283.5 332.9h2M269.2 384.8h2M277.1 395h2M279.4 392.3h2M275.6 314.4h2M268.5 312.8h2M297.2 385.1h2M286.3 404.7h2M280.9 335.1h2M292.6 314.5h2M276 393.9h2M310.8 307h2M286 397.9h2M308.4 399.1h2M269.7 320.6h2M281 332.2h2M313.1 408.8h2M283.8 340.3h2M310.5 312.4h2M310.3 305.3h2M305.2 293.6h2M277.6 319.7h2M285.6 327.3h2M303.8 283h2M269.6 317.8h2M270.7 384.8h2M268.2 306.2h2M283.3 397.8h2M277.5 388.5h2M299.8 381.1h2M274 389.1h2M281.6 322.1h2M274.6 391.7h2M297.9 389.9h2M285.8 399h2M272.3 306.4h2M283.4 394h2M305.1 291.5h2M290.2 395.5h2M270.4 391h2M303.6 288.6h2M268.3 391.5h2M312.7 402.4h2M284.2 400.2h2M280.4 324.8h2M269.7 316.3h2M302.8 286.2h2M273.3 389.2h2M299.1 288.5h2M306.7 393.6h2M285.7 405.6h2M295.8 305.9h2M287.7 323.4h2M298.6 296.8h2M301.7 291.9h2M293.5 309.4h2M275 315.2h2M304.4 388.7h2M270.2 317.7h2M290 337.2h2M307.2 300.8h2M279 333h2M304.4 393.4h2M309 300.4h2M284.6 394.9h2M286.5 330.9h2M286.3 344.5h2M273.3 389.3h2M299.3 295.4h2M272.7 312.9h2M314.2 327.1h2M278 393.7h2M309.7 305.3h2M305.5 293.4h2M271.5 320.9h2M289.2 404.5h2M310.9 317.7h2M293.8 318.7h2M308.1 402.6h2M269.8 310.6h2M308.1 307.3h2M286.2 321.5h2M303.2 281h2M292.1 336.8h2M280.5 398.7h2M268.3 307.5h2M268.6 312.7h2M295.5 294.1h2M282.6 396.1h2M277 313.9h2M268.9 306.2h2M275 391.1h2M283.8 337.4h2M300.5 385.7h2M303.8 383h2M303.8 284.9h2M282.6 328.8h2M277.8 318.1h2M310.5 400.6h2M295.1 314h2M280.5 336.4h2M291.7 337.5h2M298.6 391.1h2M270.7 317.2h2M281.3 319.2h2M297.9 300.8h2M308.5 402.5h2M294.7 388.9h2M275.1 321.7h2M297 297.3h2M300.6 294.4h2M282.5 325.4h2M278.6 321h2M305.2 293.5h2M304.2 383.6h2M295.9 303.9h2M304.5 383.8h2M284.1 329.6h2M292.1 330.8h2M268.8 318.3h2M269.7 320.1h2M295.2 297.1h2M290.8 337.9h2M276.2 316.6h2M310.4 309.3h2M312.2 403.8h2M313 405.6h2M304 382.5h2M304.7 284.5h2M292.8 395.9h2M271.9 318.3h2M293.2 326.3h2M301.2 284.4h2M295.3 309h2" stroke="#3a55e0" stroke-width="2" fill="none"/><path d="M296.8 271.5h2.2M306 273.7h2.2M274.4 287.3h2.2M289.1 423.9h2.2M281.9 418h2.2" stroke="#3a55e0" stroke-width="2.2" fill="none"/><path d="M318 328.8V328.8H319.7V325.5H321.3V316.7H323V308.3H324.7V327H326.3V315.4H328V316.6H329.7V329H331.4V324H333V325.8H334.7V322.3H336.4V327.7H338V324.5H339.7V333.1H341.4V335H343V329.6H344.7V323.9H346.4V326.9H348.1V318.9H349.7V310.6H351.4V307.8H353.1V312.5H354.7V322.1H356.4V391.1H354.7V386.3H353.1V392.7H351.4V396.2H349.7V391.1H348.1V400.8H346.4V394.1H344.7V391H343V390.9H341.4V397.8H339.7V393.5H338V391.3H336.4V402.9H334.7V399.2H333V401.9H331.4V395.2H329.7V397.9H328V398.2H326.3V393H324.7V401.8H323V402.4H321.3V397.3H319.7V394.4H318Z" fill="#4d10d0"/><path d="M321.8 396.9v-11M327.8 324.2v6M331.3 386.7v-11.6M338.6 383.5v-3.1M344.7 348v10M349 320.7v13.1M351 313.7v6.9M350.2 393.2v-10.5M352 326.6v3.8M354.5 316.9v12.2" stroke="#fff" stroke-width="0.6" stroke-opacity="0.6" fill="none"/><path d="M317.8 326.8h2M318 397.3h2M317.1 327.3h2M318.4 395.6h2M319 324.9h2M319.2 397.8h2M319.4 323h2M319.5 398.1h2M320.4 315.1h2M321.6 403.3h2M320.9 314.6h2M321.6 404.8h2M322.2 306h2M322.8 404.1h2M323.6 307.3h2M322.7 404h2M324.7 324.6h2M325.1 393.8h2M324.4 325.4h2M324.1 393.2h2M326.2 312.6h2M325.5 399.1h2M325.4 313.5h2M326.8 400.8h2M328.5 314.6h2M327.3 399.2h2M327.9 314.4h2M328.4 400.7h2M329.9 327.9h2M330.2 396.1h2M329.6 328h2M329.6 397.2h2M331.4 321.9h2M330.5 403.2h2M331.2 321.5h2M331.4 402.5h2M333.2 324.6h2M333.5 400.7h2M333.4 323.8h2M333.5 400.2h2M335.1 321.6h2M334 404.6h2M335 321.1h2M333.7 404.6h2M335.9 325.6h2M335.6 393.2h2M336.2 327.5h2M337 392h2M337.2 322h2M338.7 394.2h2M338.5 324.3h2M338.6 393.9h2M340 330.2h2M340.1 398.4h2M340.1 330.2h2M340 399.6h2M341.6 333.6h2M340.9 393.4h2M340.9 334.6h2M340.7 393.1h2M342.2 329.3h2M342.8 393.5h2M342.2 326.9h2M342 393.9h2M344.2 322.5h2M344.5 395.8h2M344.4 323.3h2M344.7 394.2h2M346.6 325.5h2M346.3 401.8h2M345.4 324.2h2M346.2 403.5h2M347.3 317.2h2M347.1 392.9h2M347.8 317.8h2M348.6 392.6h2M350.4 308.5h2M350 399.1h2M350.3 308.8h2M349.1 398.3h2M351.3 305.6h2M351.1 394.9h2M350.4 307.5h2M351.5 393.5h2M353.2 310.5h2M352.9 388.7h2M352.4 311h2M352.5 388.4h2M354 321.4h2M355.3 393.5h2M354.6 321.8h2M354.1 393h2M332.3 319.3h2M339.6 324.9h2M347.2 317.9h2M324.6 301.6h2M343 322.8h2M333.7 313.8h2M326.3 304.2h2M355.2 309.7h2M345.7 306.6h2M348 314.6h2M342.9 405.3h2M318.7 402.8h2M346.7 306.6h2M320.3 308.8h2M341.2 315.8h2M317.7 312.4h2M336.2 398.6h2M337.5 315.5h2M326.7 301.4h2M319.5 401.4h2M333.4 311.5h2M334.8 318.1h2M344.2 309h2M318 408.9h2M346 396.5h2M350.7 299.5h2M340.4 323.9h2M334.5 319.3h2M317.3 302.8h2M330 318.2h2M344.9 318.3h2M318.8 409.3h2M338.7 322.5h2M334.3 322.5h2M320.7 407.6h2M332.1 316.9h2M336 314h2M351.6 298.1h2M351.4 302.3h2M333.4 318.4h2M340.2 397.4h2M337.7 400.9h2M317.1 316.7h2M342.5 322.6h2M328 411.9h2M348.8 400.9h2M352.3 305h2M334.6 319.4h2M321.7 299.7h2M340.5 325.2h2M353.5 393.9h2M321.8 402.4h2M324.3 307.6h2M337.2 316.2h2M317.3 399.6h2M347 393.2h2M343.8 396h2M327.6 302.2h2M322.1 308.2h2M338 314.1h2M328.6 301.6h2M332.4 404.1h2M319.6 299.1h2M317.9 313.9h2M348 395.3h2M325.3 307.5h2M320.4 315.7h2M321.5 404.2h2M343.1 399.1h2M348 303.1h2M345.5 393.6h2M326.1 408.3h2M349.8 400.2h2M343.3 312.8h2M326.2 309.6h2M321 307.5h2M347 317.4h2M342.1 310.2h2M348 397.2h2M348.8 315.4h2M352.6 392.8h2M332.1 319.4h2M332.4 315.9h2M337.6 313.6h2M328.8 408.4h2M343.2 317.6h2M331.9 319.6h2M353.9 396.5h2M341.4 322.8h2M327.1 315.9h2M348.2 303.6h2M320.4 308.7h2M347 392.9h2M352 299.7h2M341.2 320.8h2M324.9 310h2M340.3 318.5h2M342.9 393.5h2M320.7 411.4h2M336.5 398.2h2M355 392.8h2M333.6 321.6h2M328.4 301.1h2M326.2 405h2M330.7 304.6h2M349.9 299.4h2M340.1 399.9h2M336.4 397.6h2M342.1 314.2h2M354.5 307.8h2M335 316.5h2M349.5 395.5h2M349.7 311h2M355.3 304.8h2M326.6 302.9h2M322.6 411.8h2M320.1 402.9h2M348.2 303.1h2M319.7 302.8h2M318.8 402.7h2M341.5 400.8h2M346.7 306h2M344.7 400.1h2M350.9 300.8h2M327.5 405.4h2M344.7 315h2M354.2 396.8h2M330.3 309h2M349.7 313.3h2M317.4 408h2M338.3 407.4h2M332.2 313.1h2M346.2 306.5h2M335.9 315.8h2M334.1 315.5h2M332.7 401.1h2M332.6 312.1h2M324.8 412.8h2" stroke="#4d10d0" stroke-width="2" fill="none"/><path d="M319.8 263.1h2.2M341.1 260.1h2.2M329.3 279.8h2.2M321.4 426h2.2M352.1 427.2h2.2M331.4 427.2h2.2" stroke="#4d10d0" stroke-width="2.2" fill="none"/><path d="M359.8 307.3V307.3H361.5V301.4H363.1V303.3H364.8V309.7H366.5V360.4H364.8V363.3H363.1V362H361.5V368.7H359.8Z" fill="#520050"/><path d="M363 317.4v4.8M366.5 340.5v-11" stroke="#fff" stroke-width="0.6" stroke-opacity="0.6" fill="none"/><path d="M359.1 304.8h2M359.6 369.7h2M359.5 304.7h2M360.4 369.7h2M362 301.3h2M361.3 363.1h2M361.7 301.1h2M360.6 363.2h2M363.4 300.4h2M362.3 366h2M363 301.1h2M362.5 364h2M365.3 307h2M364.9 361.4h2M364.8 308.2h2M364.7 361h2M365.3 299.1h2M362.1 370.8h2M363.5 372.6h2M365.1 370.6h2M361.7 369.3h2M359 368.5h2M363.2 372.3h2M360.4 369.3h2M361.1 370.3h2M361.8 368.1h2M362.9 369.7h2M361.8 300h2M365.3 299.1h2M365.2 296.9h2M359 368.9h2M365.3 299.1h2M360.3 296.5h2M359.9 375.8h2M359.8 372.6h2M359.7 375.4h2M363.7 368.1h2M363.9 296.8h2M359.4 296.9h2M363.6 374.1h2" stroke="#520050" stroke-width="2" fill="none"/><path d="M379.2 313.2V313.2H381V315.4H382.8V310.6H384.6V299.2H386.5V304H388.3V314.7H390.1V312.8H391.9V386.7H390.1V386.4H388.3V383.1H386.5V390.8H384.6V389.1H382.8V376.3H381V382.1H379.2Z" fill="#520050"/><path d="M380.3 315.4v13.7M380.2 374.1v-11.3M382 317.8v6.3M390 316.3v11.8M388.7 378.4v-3.4" stroke="#fff" stroke-width="0.6" stroke-opacity="0.6" fill="none"/><path d="M379.8 312.3h2M378.2 385.1h2M379.3 312.4h2M379.5 383.2h2M381.5 313.3h2M380.9 377.5h2M381.6 313.7h2M380.7 378.4h2M383.2 308.8h2M383.3 391h2M383.2 309.6h2M382.8 389.1h2M384.9 297.6h2M384.5 393.7h2M384.9 298.2h2M385.2 393.3h2M386.1 302.9h2M385.8 384h2M386.6 301.4h2M385.7 385.8h2M387.6 314.3h2M388.6 386.6h2M387.7 314.3h2M388 386.9h2M390.7 311.2h2M390.8 387.1h2M390.2 311.8h2M389.1 387.1h2M381.6 390.6h2M388.2 386.2h2M387 390.5h2M379.6 299.8h2M380.7 301.7h2M386.1 387.1h2M382.3 385.9h2M389.5 304h2M383.1 301.3h2M382.4 388.6h2M384.2 386.3h2M387.9 385.3h2M389.9 305h2M381.9 301.7h2M388.9 386.1h2M385.8 390h2M381.8 387.2h2M387.7 301.8h2M383.2 304.3h2M390.6 388.4h2M387.8 390.8h2M390.2 305.6h2M384.1 387.7h2M378.7 305.3h2M388.1 299.6h2M386.1 385.9h2M389.8 387.9h2M388.2 301.4h2M379.6 385.2h2M379.1 302h2M389.8 387.1h2M378.5 305.7h2M390.4 389.5h2M385.2 385.8h2M379.3 386.4h2M382.8 385.7h2M381.6 301.1h2M382.6 389.9h2M385.5 299.1h2M384.1 388.8h2M384.9 388.1h2M380.8 298.6h2M381.3 300.5h2M386.8 385.8h2M390 385.2h2" stroke="#520050" stroke-width="2" fill="none"/><path d="M360.3 285h2.2M381.4 283.5h2.2M390.1 286.8h2.2M388.4 414h2.2M374.8 353.7h2.2M370.9 320h2.2M368.9 370h2.2" stroke="#520050" stroke-width="2.2" fill="none"/><path d="M395.8 317V317H397.1V313H398.4V379.2H397.1V374H395.8Z" fill="#bc3cb8"/><path d="M396 338v9.1" stroke="#fff" stroke-width="0.6" stroke-opacity="0.6" fill="none"/><path d="M395.7 315.2h2M395.7 376.5h2M395.2 315.4h2M395.8 374.8h2M396.8 310.9h2M396.9 381.9h2M396.9 312.2h2M396.4 380.9h2M395.9 313.3h2M395.3 313.9h2M397.1 313.3h2M396 312.1h2M396.3 312.6h2M397 312.8h2M395.7 385h2M396.3 313.9h2M395.9 312.6h2" stroke="#bc3cb8" stroke-width="2" fill="none"/><path d="M399.7 322.2V322.2H401.4V326.2H403V315.6H404.7V324.3H406.4V315.4H408V314.2H409.7V317.1H411.3V316.5H413V324.1H414.7V332.6H416.3V322.2H418V392.7H416.3V395.6H414.7V402.1H413V400.2H411.3V398.6H409.7V397.4H408V398.9H406.4V399.4H404.7V402.6H403V389.9H401.4V396.3H399.7Z" fill="#bc3cb8"/><path d="M408.4 318.5v10.5M411.7 399.2v-5.5" stroke="#fff" stroke-width="0.6" stroke-opacity="0.6" fill="none"/><path d="M399.4 319.6h2M399.3 399h2M399.5 321.2h2M399.2 396.6h2M401.6 324.2h2M402 390.1h2M401.1 324.3h2M401 390.1h2M403.5 314.4h2M402.7 403h2M402 315.1h2M403.6 405.3h2M404.5 323.7h2M404 400.1h2M404.6 322.3h2M403.9 402.4h2M405.4 315.4h2M406.1 399.2h2M406.2 312.7h2M406.4 401.9h2M408.2 311.8h2M407.9 399.1h2M408.1 313.9h2M407.9 397.5h2M409.5 314.1h2M410.2 399.6h2M409.3 316.4h2M408.7 399.9h2M411.3 315.1h2M411.9 401.4h2M410.5 315.7h2M410.7 401h2M412.8 323.4h2M413.5 404.6h2M413 322.9h2M412.7 403.3h2M414.7 332.5h2M414.6 397.8h2M414.6 331.4h2M414.8 396.3h2M416.4 319.4h2M416.4 393.5h2M416 322.1h2M416 394.1h2M408.6 309.1h2M404.2 315.1h2M409.7 407.6h2M401.1 316.9h2M399.6 317.3h2M400.5 399.6h2M403.7 407.5h2M401.3 409h2M410.2 315.4h2M406.6 409.8h2M400.8 399.6h2M412.6 315.1h2M402.3 310.3h2M415.6 319.4h2M415.5 314.2h2M407.7 310.1h2M416.5 306h2M401.2 309.1h2M401.7 404h2M401.1 316.7h2M401.1 402.3h2M400.1 307.1h2M415 311.3h2M399.7 400.4h2M409.7 304.4h2M407.7 306.7h2M402.5 318.8h2M412.7 319.2h2M409.2 403.9h2M402.7 305.8h2M402.8 313h2M403.8 318.3h2M414.7 305.6h2M398.9 316.5h2M398.7 402.4h2M416.6 306.2h2M416.4 406.5h2M416.6 403.4h2M405.1 308.6h2M398.8 310.1h2M401.1 311.3h2M415.6 407.4h2M405.6 317h2M410.1 307.6h2M416.7 399.9h2M400.6 307.8h2M415.7 306.1h2M402.6 404.2h2M406.4 316.3h2M414.9 407.1h2M406.7 313.1h2M402.8 311.9h2M407 308h2M401.1 404.5h2M408.9 313.7h2M410.2 311.5h2M416.2 310.2h2M404.8 307.1h2M415.5 403.9h2M402.3 318.1h2M412.8 402.3h2M413.6 318.6h2M415.2 318.4h2M416.3 398.7h2M403.2 316.6h2" stroke="#bc3cb8" stroke-width="2" fill="none"/><path d="M419.6 324.1V324.1H421.4V317H423.1V318H424.9V312.4H426.6V311.8H428.4V311.9H430.1V312.8H431.9V311.5H433.6V323.9H435.4V318.1H437.1V328.8H438.9V322.7H440.6V401.1H438.9V401.5H437.1V396.4H435.4V400.5H433.6V395.6H431.9V397.8H430.1V395.3H428.4V390.5H426.6V391.5H424.9V387.8H423.1V391.2H421.4V386.4H419.6Z" fill="#bc3cb8"/><path d="M421.5 383.9v-9.1M424.8 328.2v13.7M427 319.8v10.8M429.2 377.6v-8.5M432.2 323v10.6M434.6 340.5v12.8M436 330.4v12.2M435.9 378.2v-9.6M438.6 340.7v13.6" stroke="#fff" stroke-width="0.6" stroke-opacity="0.6" fill="none"/><path d="M419.8 324h2M418.9 388.6h2M419.2 321.9h2M418.9 388.3h2M421.2 314.8h2M421 393.6h2M421 315.9h2M421.1 394.2h2M422.2 316.8h2M422.5 389.4h2M422.6 315.6h2M422.8 390.4h2M425.2 311.4h2M424.3 392.8h2M424.2 309.5h2M424.1 393.2h2M426.8 309.2h2M426.7 390.7h2M426.3 310.2h2M426.6 392.2h2M427.7 311.8h2M429.1 397.8h2M427.4 311.2h2M427.8 397.3h2M429.3 310.6h2M430.2 399.4h2M430.8 312.3h2M429.4 398.9h2M432.1 311h2M431.8 398.5h2M431.4 311.4h2M431.1 396.7h2M433.6 321.1h2M432.9 400.8h2M432.7 323h2M433.5 401.6h2M435.2 317.1h2M435.3 396.7h2M435.5 316.1h2M436.1 399.2h2M436.3 327.1h2M437.7 401.9h2M437.1 326.8h2M437.3 401.7h2M438.6 321.5h2M439.1 402.3h2M438.9 322h2M438.8 401.8h2M436.7 314.9h2M432.6 398.6h2M434 400.8h2M421.6 396.2h2M426.6 299.1h2M437.8 305.9h2M438.9 399.6h2M429.4 402.2h2M421.1 299.9h2M425 302h2M424.2 297.8h2M439.4 402.2h2M427.5 307.5h2M420 397.3h2M425.4 297.7h2M424.6 302.7h2M424.4 303.8h2M424.7 302.8h2M428.2 308.2h2M418.6 311.7h2M433.6 303.8h2M438.5 318.2h2M438.8 401.9h2M430.1 303.8h2M437.4 314.2h2M438.6 307h2M425.7 307h2M431.3 310.8h2M425.5 306.9h2M429.9 306.6h2M439.5 400h2M432.6 310.2h2M428 306.3h2M432.3 400.1h2M428.3 303h2M436.7 309.7h2M434.1 310.1h2M427.2 308.5h2M424.5 296h2M431.9 311.4h2M436.4 314.1h2M438.6 402.7h2M438.4 403.4h2M433.4 312h2M436.3 314.9h2M428.6 399.6h2M423.8 302.4h2M432.3 311.5h2M436.6 399.9h2M430.7 399.9h2M431.1 400.2h2M434.2 309.8h2M419.7 395.6h2M432 403.4h2M426 298.6h2M429.4 400.9h2M437.6 403.8h2M430.7 299.2h2M424.5 397.5h2M427.1 306.9h2M439.6 317.4h2M425.9 395.8h2M439.5 313.8h2M433.1 309.9h2M427.2 297.4h2M419.5 306.3h2M439.6 310.1h2M437 313.3h2M426.2 297.8h2M439.5 309.5h2M435.1 405.7h2M428.1 395.8h2M427 300.9h2M425.7 395h2M418.8 306h2" stroke="#bc3cb8" stroke-width="2" fill="none"/><path d="M412.1 241.9h2.2M422.4 241.9h2.2M434.4 268.8h2.2M395.4 271.5h2.2M423.9 290.1h2.2M437.7 290.1h2.2M412.1 423.9h2.2M436.6 412.3h2.2" stroke="#bc3cb8" stroke-width="2.2" fill="none"/><path d="M444 314.2V314.2H445.6V301.9H447.3V320.7H449V315.2H450.6V385.4H449V385H447.3V385.8H445.6V385.5H444Z" fill="#ff0055"/><path d="M444.1 325.9v9.4M446.5 318.4v8.7M450.6 327.5v8.4" stroke="#fff" stroke-width="0.6" stroke-opacity="0.6" fill="none"/><path d="M444.1 313.3h2M444.6 385.8h2M444.1 312h2M444.5 386.6h2M445.9 299.2h2M446.2 386.7h2M445.2 300.5h2M446 387.4h2M447.7 320.6h2M447 386.2h2M447.5 318.5h2M447.8 387.1h2M449.2 315.1h2M448.9 388h2M449.3 312.6h2M449 387.4h2M447.8 299.3h2M443.6 306.5h2M448.1 391.1h2M449 387.6h2M448.4 309.2h2M443.3 389.9h2M443.2 298.3h2M445.2 393.8h2M444.5 307.5h2M444.7 304h2M445.3 304.7h2M449.3 391.1h2M446.4 304.6h2M444.4 391.3h2M444.6 307.1h2M448.4 386.8h2M448.2 390.1h2M448.5 304.3h2M447.9 302.2h2M445 304.6h2M447.3 394.3h2M445.7 304.8h2M444.9 302.1h2" stroke="#ff0055" stroke-width="2" fill="none"/><path d="M452.2 319.8V319.8H453.8V312.4H455.5V300.5H457.1V315.7H458.7V314.4H460.4V317.7H462V397.7H460.4V389.2H458.7V394.9H457.1V395.7H455.5V386H453.8V390H452.2Z" fill="#ff0055"/><path d="M454.6 329.9v4.7M455 383.3v-6.8M459.8 377.1v-9.9" stroke="#fff" stroke-width="0.6" stroke-opacity="0.6" fill="none"/><path d="M451.6 317.3h2M452.4 391.1h2M452.2 319.8h2M452.4 392.7h2M452.9 311.6h2M454.1 387.2h2M453.3 311.4h2M453.5 388.4h2M456.1 299.7h2M455.7 397.1h2M455 300.3h2M455.1 398.7h2M456.2 314.8h2M457 396.9h2M457.1 315.6h2M457.1 395.5h2M458.3 312.8h2M459.2 391.1h2M458.8 313.6h2M458.7 391.4h2M459.8 317.4h2M460.3 400.3h2M460.4 317.2h2M459.6 399.1h2M457.9 397.6h2M451.6 396.4h2M456.4 299.3h2M456.1 305.3h2M458.1 298.7h2M458.3 308.7h2M459.3 309h2M451.6 396h2M451.9 306.6h2M460.1 393.2h2M459.7 393.6h2M453.7 397.8h2M458.9 397.7h2M452.2 299.8h2M457.3 398.5h2M457.5 401.6h2M454.3 395.5h2M456.4 300.5h2M452.3 308.3h2M460.3 398.1h2M456.1 400.6h2M457.4 308.4h2M455.1 305.7h2M458.1 394.4h2M458.2 303.9h2M458.8 310.2h2M458.4 393.8h2M454 307.3h2M460.6 307.3h2M458.5 301.1h2M459.7 399.2h2M457 307.4h2M458 399.2h2M460.1 309.9h2M454.1 395.5h2" stroke="#ff0055" stroke-width="2" fill="none"/><path d="M464 320.5V320.5H465.7V311H467.4V306.8H469.2V307.9H470.9V315.4H472.6V315.3H474.3V316.7H476.1V327.7H477.8V321.8H479.5V393.7H477.8V386.7H476.1V395.7H474.3V392.9H472.6V400.9H470.9V393H469.2V395.5H467.4V387.6H465.7V378.3H464Z" fill="#ff0055"/><path d="M472.4 326.2v4.2M476.2 343.7v11.4M476.8 378.6v-6.8" stroke="#fff" stroke-width="0.6" stroke-opacity="0.6" fill="none"/><path d="M463.4 320h2M463.1 379.2h2M463.7 320.5h2M463.6 380.7h2M466 308.4h2M464.8 387.9h2M466 309.2h2M465.5 389.6h2M466.8 304.5h2M467.3 396.3h2M467.8 304.3h2M466.6 398.4h2M469.6 307.7h2M469.6 395h2M468.8 306.5h2M469 393.3h2M470.2 314.1h2M470.2 403.8h2M471.6 314.6h2M470.3 402h2M472.7 315.2h2M472.1 394.4h2M472.1 314.1h2M471.7 392.9h2M473.4 314h2M474.4 395.8h2M474.7 315.5h2M473.6 396.8h2M475.5 324.7h2M475.9 387.4h2M475.4 327.1h2M475.9 389.2h2M477.2 321.7h2M477.8 396h2M477.5 320.8h2M477.3 393.9h2M472.5 300.6h2M472.1 397.3h2M478 317.6h2M465.1 390.5h2M464.6 299.8h2M476.9 401.1h2M467.9 295.8h2M477.5 307.4h2M470.8 403.7h2M476.5 314.6h2M472.3 301.7h2M476.6 316.4h2M473.1 305.3h2M467.8 298.9h2M470.9 398.3h2M474 307.9h2M471.9 298.5h2M467.3 301.8h2M468.6 294.3h2M467.1 392.4h2M477.9 401.4h2M474.8 405.7h2M466 391.1h2M475.4 307.9h2M464 392.9h2M471.2 404h2M467.8 396.1h2M464.6 392.2h2M471.9 304.9h2M471.4 304.1h2M477.3 307.8h2M463.1 308.6h2M471.5 398h2M474.4 309.2h2M466.6 392.1h2M464.8 390.4h2M471.8 304.5h2M471.5 294.1h2M463.8 392.1h2M473.6 300.8h2M477.5 316.4h2M463.5 395.4h2M475.9 404.8h2M469.3 300.1h2M464.1 308.9h2M470.1 303h2M463.9 311.3h2M467.3 303.4h2M474.3 309.4h2M477.2 398.1h2M474.1 399.2h2M478 320.2h2M474.7 405.2h2M471.5 304.8h2M473.7 301h2" stroke="#ff0055" stroke-width="2" fill="none"/><path d="M453.2 260.1h2.2M455.4 272.6h2.2M456.9 283.5h2.2M468.5 284.6h2.2M453.2 427.6h2.2" stroke="#ff0055" stroke-width="2.2" fill="none"/><path d="M484.4 319.4V319.4H486V320.2H487.6V379H486V375.4H484.4Z" fill="#521c05"/><path d="M485.2 328.1v3.6M485.6 369.4v-6.4M486.2 329.5v3.9" stroke="#fff" stroke-width="0.6" stroke-opacity="0.6" fill="none"/><path d="M484.8 317.5h2M484.7 377.5h2M484.2 318.1h2M484 376.6h2M485.6 318.2h2M485.4 380.5h2M486.4 318.6h2M486.3 381.9h2M486.1 378.2h2M486.4 377h2M485.9 314.1h2M486.3 379.2h2M484.1 313.5h2M485.4 378.2h2M485.6 314.8h2M486.4 378.4h2M486.3 312.8h2M483.8 314.9h2M485.8 377.6h2" stroke="#521c05" stroke-width="2" fill="none"/><path d="M494.4 319V319H496.4V324.9H498.4V375H496.4V377.9H494.4Z" fill="#521c05"/><path d="M493.5 316.7h2M493.5 378.6h2M495.1 316.3h2M493.8 379.6h2M497.3 324.4h2M497.1 377.3h2M495.7 324.6h2M495.7 375.9h2M493.4 323.9h2M494.7 318.9h2M494 323.8h2M494.5 321.7h2M495.2 321.5h2M494.2 382.1h2M494.7 321.7h2M496.5 381.9h2M495.6 323h2M496.9 319.9h2M494.2 319h2M495.2 319.5h2M496.9 324h2M493.9 322.5h2" stroke="#521c05" stroke-width="2" fill="none"/><path d="M508 316V316H509.7V313.5H511.4V319.8H513.1V312.4H514.8V321.1H516.5V315.1H518.2V317.7H519.9V305.1H521.6V322.8H523.3V327.7H525V392.7H523.3V391.8H521.6V388.1H519.9V390.4H518.2V398.6H516.5V386.6H514.8V400.1H513.1V399.5H511.4V390.3H509.7V394.7H508Z" fill="#521c05"/><path d="M511.2 315.3v5.9M512.6 337.7v12.3M514.8 313.5v9.7M515.7 333.7v9.7M517.8 331.3v6.2M522.3 342.6v4.3M524 346.6v3.3" stroke="#fff" stroke-width="0.6" stroke-opacity="0.6" fill="none"/><path d="M507.6 314.5h2M508.4 397h2M508.7 313.1h2M507.7 397.5h2M509.3 311.3h2M509.8 391.5h2M508.9 313.2h2M510.2 392.1h2M511.2 319.4h2M511 400.3h2M511.6 318.4h2M511.8 400h2M512.5 309.7h2M513.6 401.1h2M513.7 309.4h2M512.5 400.8h2M514.6 318.5h2M513.9 387.1h2M515.4 320.9h2M514.2 386.8h2M517.1 314.2h2M516.2 401.6h2M516.9 312.7h2M517 400.4h2M518.6 316.2h2M518.9 392.5h2M518.9 316.1h2M518.5 392.7h2M519 303.9h2M520.2 390.9h2M519.3 303.5h2M519.7 389.4h2M521.7 320.8h2M521.4 393h2M521.6 321.3h2M521.1 392.4h2M523.1 326.7h2M523.9 393.2h2M523.1 325.9h2M523.4 395.5h2M508.5 398.3h2M520.5 311h2M515.3 313.1h2M520.4 315h2M516.8 303h2M513.5 311.7h2M515.5 312h2M508 399.3h2M514.7 314h2M522.2 316.1h2M507.6 316.5h2M512.3 398.6h2M516.1 314.2h2M511.6 310.1h2M510.9 396.4h2M515.4 397.9h2M514.6 399.2h2M507.6 399.9h2M514.6 306.6h2M515.7 310.3h2M512 308.9h2M508 316.2h2M515.5 395.1h2M523.3 316.5h2M522.5 315.4h2M511.8 308.3h2M516.7 313.3h2M519.6 397h2M520 314h2M514.9 308.4h2M517.1 396.9h2M517.5 399.7h2M508.3 393.1h2M517.7 394h2M518.3 309.1h2M513.3 399h2M515.1 312.5h2M514.4 310.3h2M510.5 307.1h2M522.6 316.6h2M509.9 309.3h2M514 314.5h2M514.2 395.4h2M517.8 315.1h2M511.7 314.5h2M519 313.4h2M508 396.1h2M518.9 309h2M522.6 316h2M511.4 395.6h2M507.1 315.3h2M514 399.7h2M508.2 316.7h2M512.7 395.3h2M523.4 399.7h2M518 309.4h2M520.7 305.4h2M512.5 313.8h2M509.8 393.2h2M522.6 393.7h2M513.2 314.3h2" stroke="#521c05" stroke-width="2" fill="none"/><path d="M485.4 241.9h2.2M520.5 241.9h2.2M493.1 257.2h2.2M521.6 257.2h2.2M521.6 274.8h2.2M516.1 287.9h2.2M516.8 296.7h2.2M484.8 301.7h2.2M497.5 304.4h2.2M484.8 410.7h2.2M486.1 426.1h2.2M495.3 406.3h2.2M518.3 420.2h2.2M513.9 414h2.2" stroke="#521c05" stroke-width="2.2" fill="none"/><path d="M545.7 313.8V313.8H547.4V318.7H549V312H550.7V318.5H552.3V311.1H554V320H555.6V315.8H557.2V310.6H558.9V316.6H560.6V317.7H562.2V396.9H560.6V391.1H558.9V394.8H557.2V400H555.6V396.3H554V398.5H552.3V400.3H550.7V396.1H549V388.5H547.4V384.9H545.7Z" fill="#a8292c"/><path d="M545.8 315.6v6.4M548.9 384.5v-6.1M549.5 389.3v-9.2M552.1 398.2v-5.9M553 328.7v9.6M555.7 324.9v8.4" stroke="#fff" stroke-width="0.6" stroke-opacity="0.6" fill="none"/><path d="M544.9 312h2M544.7 387.7h2M546 313.1h2M545.7 386.3h2M547 316.9h2M547.3 390.3h2M546.6 315.7h2M547.5 390.2h2M548.3 311.2h2M549.2 396.5h2M548.8 309.1h2M549 397h2M550.9 318.3h2M550.3 400.5h2M549.9 316.4h2M550 402.5h2M552 308.7h2M552.6 399.6h2M551.4 309.4h2M551.5 399h2M553.1 317.2h2M553.7 396.7h2M553.4 318.6h2M554.3 398.6h2M555 314.8h2M556.2 401h2M555.5 315.7h2M555.7 400.3h2M557.5 309h2M557.4 396.9h2M557.9 308.7h2M557.3 397.6h2M559.2 316.2h2M558.4 393h2M558.3 316.4h2M558.7 393.6h2M559.7 317.3h2M559.8 398.5h2M560.3 315.2h2M560.9 399.2h2M552.9 301.9h2M560.1 311.7h2M551.8 310.4h2M557 308.6h2M556.6 296h2M557.2 305.1h2M545.7 295.3h2M549.8 300.1h2M545.4 302.1h2M552.5 305.5h2M548.7 291.6h2M554.8 309.8h2M545.5 312.3h2M555.7 397.9h2M557.6 301.9h2M547 310.7h2M558.2 307.1h2M550.1 311.6h2M546 395.4h2M553.2 295.9h2M553 401.6h2M550.1 307.3h2M556.3 300.7h2M546 305.2h2M553.1 308.6h2M551.8 295.4h2M548.1 398.7h2M548.9 297h2M551.7 300.4h2M556.4 300.6h2M550.7 398.8h2M555.1 400.2h2M548.5 301.2h2M559.5 305.8h2M559.1 298.1h2M552.8 310.7h2M550.1 310.6h2M545.1 304h2M560.9 400.8h2M550.2 308h2M547.1 303.2h2M550.5 401.1h2M557.2 305.7h2M559 400.8h2M550.2 402.1h2M557.2 397.6h2M553.2 400.4h2M554.8 304.9h2M547.9 399.3h2M550.3 397.8h2M560.7 312.2h2M558.6 310.9h2M556.2 302.5h2M557.1 304.9h2M561 401.5h2M551.7 300.9h2M551.5 304.6h2M550.3 295.5h2M557.7 309.5h2" stroke="#a8292c" stroke-width="2" fill="none"/><path d="M556 241.7h2.2M546.7 284.2h2.2M554.2 287.2h2.2M534.7 320.6h2.2M527.7 351.5h2.2M541.6 358.4h2.2M527.7 375.8h2.2M535.6 373.5h2.2M550.9 414.8h2.2M550.9 424.1h2.2M538.9 300h2.2" stroke="#a8292c" stroke-width="2.2" fill="none"/><path d="M566.4 268.6V268.6H568.1V257.4H569.8V268H571.6V259.9H573.3V274.2H575V279.4H576.7V309.1H578.4V305.3H580.1V320H581.9V325.2H583.6V325.4H585.3V326.7H587V325.8H588.7V327.6H590.5V323.5H592.2V319.2H593.9V320.3H595.6V318.6H597.3V313.8H599.1V300.2H600.8V277H602.5V270H604.2V268H605.9V256H607.6V261.5H609.4V267.5H611.1V281.3H612.8V369.8H611.1V383.7H609.4V385.5H607.6V379.3H605.9V382.6H604.2V391.6H602.5V387H600.8V384.2H599.1V401.8H597.3V390.6H595.6V400H593.9V400H592.2V398.3H590.5V406.3H588.7V409.1H587V406.9H585.3V406.2H583.6V399.5H581.9V401.4H580.1V395.1H578.4V394.5H576.7V390.4H575V395.4H573.3V383.5H571.6V382.5H569.8V381.8H568.1V374.2H566.4Z" fill="#ffb400"/><path d="M576.7 372.9v-4.2M578.3 318.9v11.7M577.7 377.8v-9.9M580.1 311.7v6.6M582.9 397.1v-7M583.9 343.3v12.7M584.8 389.1v-11.9M586.2 333v4.2M588.5 328.7v13.4M588 403.1v-8.3M590.2 393.1v-8M597.5 335.8v8.2M599.3 311.5v11.4M599.4 373.7v-6.4M600.8 290.2v12.6M601.7 377.2v-10M605.1 285.2v8.7M605.3 366.3v-9.2M609 263.4v8.2M611.6 360.2v-4.6" stroke="#fff" stroke-width="0.6" stroke-opacity="0.6" fill="none"/><path d="M565.9 265.8h2M565.7 375.2h2M566.1 267.1h2M566.6 375h2M567.4 256h2M567.7 381.8h2M568.4 256.2h2M568.5 382.2h2M570.1 266.8h2M570.3 385.1h2M569.8 266.4h2M570.5 383.5h2M570.7 258h2M571.3 385.6h2M571 257.6h2M571.9 385.1h2M572.9 272.2h2M573.2 397.5h2M573.5 271.5h2M572.9 395.8h2M574.9 279.3h2M574 393.2h2M574.8 278.7h2M575.2 390.7h2M576.9 309h2M576.6 397.2h2M576.1 306.4h2M576.3 397.3h2M579 304.2h2M578.9 397.8h2M578.4 303h2M577.9 395.2h2M580 318.3h2M579.4 403.9h2M579.8 318.3h2M580.3 402.2h2M582.6 322.7h2M582.5 399.7h2M581.3 324.2h2M581.2 399.9h2M583.7 324.7h2M584.2 406.9h2M584.1 324.2h2M583 407.3h2M584.7 326.3h2M585.8 409.3h2M585 325.3h2M585.8 407.1h2M586.9 323.5h2M586.6 410.2h2M587.5 324.8h2M587.4 409.7h2M589.1 324.8h2M588.2 406.9h2M587.8 326.2h2M587.8 407h2M590.9 322.9h2M590.3 399h2M590.5 322.5h2M589.5 400.6h2M592.5 317.6h2M592.4 401.4h2M592.8 316.2h2M592.6 400.7h2M593.3 319.3h2M593.5 402.8h2M593.8 317.8h2M594.1 401.2h2M596.2 315.9h2M596.2 391.1h2M595.8 317.1h2M596.1 392.5h2M597.3 312.1h2M597 402.2h2M598 312.4h2M597.8 402.9h2M599.5 299.8h2M598.8 384.4h2M598.4 297.5h2M599 386.2h2M601.4 275.3h2M600.7 387.4h2M600.1 275.4h2M600.5 389.4h2M602.4 268.9h2M602.1 393.6h2M602.5 268.6h2M603 393.1h2M603.5 265.3h2M603.6 383.5h2M604.8 267h2M603.6 384h2M605.3 253.4h2M605.4 381h2M606.4 255.2h2M606.2 381.7h2M607.9 261h2M607.5 387.9h2M606.9 259.6h2M607.8 385.7h2M608.8 265.1h2M608.5 383.8h2M608.8 267h2M610 386.1h2M610.3 278.3h2M611.5 371.5h2M611.5 279.9h2M610.7 370.9h2M566.4 259.7h2M598.6 290.9h2M571.5 265.6h2M608.8 254.1h2M587.4 310.3h2M609.7 260h2M577.7 403.8h2M577.4 297.9h2M579.7 308.1h2M600.8 269.8h2M589.3 319h2M586.5 310.2h2M594.5 315h2M576.3 287.5h2M595 306.1h2M609.9 259.8h2M584.2 317.5h2M606.9 252.6h2M591.7 313.5h2M581 407.3h2M572.1 269.8h2M586.4 317.1h2M601.1 392.1h2M579.3 298.1h2M609.5 263.3h2M594.1 313.5h2M586.1 311.7h2M583.8 313.4h2M596.1 303.8h2M596.1 308.7h2M570.7 263h2M573.2 388.5h2M602.2 263.3h2M593.5 404.2h2M580.4 301.1h2M584.3 297.2h2M610.5 269h2M591.6 317h2M571.1 385.9h2M607.2 386.3h2M609.8 383.8h2M570.8 265.4h2M603.9 256.5h2M594.9 295h2M593.7 309.4h2M569.2 249.1h2M599.4 286.8h2M578.3 305.4h2M566 383.5h2M578.4 305.4h2M589.4 300.9h2M598.2 291.5h2M569.2 382.7h2M566.5 257.1h2M605.9 256.7h2M599.6 286.3h2M584.2 314.6h2M578.6 300.2h2M603 386.7h2M574.5 287.7h2M569 384.6h2M581.1 306.1h2M571.2 260.4h2M609.8 380.5h2M601.5 391.6h2M610.1 380.8h2M585.4 299.3h2M596.5 309.3h2M580.7 296.8h2M595.3 310h2M602.4 389.2h2M566.5 251.3h2M592.9 307h2M611 266.3h2M592.8 308.3h2M574.6 397.4h2M596.7 303.1h2M596.3 303.9h2M584.7 304h2M590.2 318.7h2M566.3 382.7h2M597.5 401.7h2M609.5 379.6h2M568.6 388.5h2M603.3 383.9h2M609.6 258.1h2M583 309.6h2M567.6 254.6h2M568.3 256h2M573.4 393h2M581.8 303.9h2M594.6 312.3h2M601.4 388.7h2M598.7 290.6h2M582 411h2M577.9 407.5h2M585.1 314.3h2M581.5 406.9h2M585.9 303.9h2M570.9 264.8h2M606.5 251.6h2M581.3 314.4h2M566.2 250.9h2M598.2 296h2M590.9 310.6h2M581.3 303.8h2M578.6 297.5h2M570.7 257.6h2M591.8 313.8h2M572.2 388.6h2M603.6 259.9h2M571.3 389.2h2M588.6 313.7h2M576.8 403.4h2M572.6 388.9h2M569.7 387.7h2M608.5 256.3h2M587 317.3h2M608.8 382.3h2M604.9 255.5h2M600.1 388.7h2M591.2 404.1h2M608.6 253.7h2M596.5 293.6h2M572.7 276h2M569.2 382.5h2M591.8 296.8h2M577.9 302.2h2M602.9 268.1h2M565.7 379.7h2M588.9 317.4h2M577.7 293.2h2M578.7 307.6h2M566.6 253.9h2M571.8 391.4h2M577.6 299.2h2M571 258.2h2M571.8 267.9h2M589.3 407h2M606.6 254.1h2M598.8 287.7h2M574 391.8h2M588.6 319.5h2M586 312.6h2M606.8 387.1h2M599.6 391.4h2M605.9 383h2M575.6 395.9h2M571.7 271.2h2M601.6 269.4h2M608.1 381.6h2M596.8 399h2M567.5 382.5h2M599.9 281.2h2M611.5 277.4h2M594.2 307.1h2M583.7 412.6h2M606.5 380.8h2M603.4 383.3h2M606 382.3h2M588.4 411.9h2M601.6 385.8h2M587.4 302.1h2M596.8 300.3h2M603.3 260.4h2M572.8 271.3h2M590.9 317.5h2" stroke="#ffb400" stroke-width="2" fill="none"/><path d="M570.4 241.7h2.2M579.7 241.7h2.2M584.3 241.7h2.2M594.3 259.8h2.2M579.2 262.1h2.2M579.7 278.4h2.2M596.6 284.2h2.2M608.9 250.5h2.2M609.4 269h2.2M576.9 411.8h2.2" stroke="#ffb400" stroke-width="2.2" fill="none"/><line x1="70.2" y1="312.2" x2="639.5" y2="312.2" stroke="#f03232" stroke-width="1.5" stroke-dasharray="5.2 4.3" stroke-dashoffset="1.2"/><path d="M106 354.4C107.8 354.4 114.4 354.6 116.9 354.4C119.4 354.2 119.9 353.5 120.9 353C121.9 352.5 122.5 350.6 123.1 351.5C123.6 352.4 123.8 357.2 124.2 358.1C124.6 359 125.1 355.9 125.7 356.6C126.3 357.3 127.2 361.7 127.9 362.5C128.6 363.3 128.4 363.8 130.1 361.4C131.8 359 136.5 350.4 137.8 348.2" fill="none" stroke="#000" stroke-width="1.5" stroke-linejoin="round" stroke-linecap="round"/><path d="M142.1 361.8C143.2 360.4 146.3 353.3 148.7 353.7C151.1 354.1 153.8 363.1 156.4 364C159 364.9 161.3 360 164.1 358.8C166.8 357.6 170.8 358.2 172.9 357C175 355.8 175.3 353.9 176.6 351.5C177.9 349.1 178.9 343.3 180.5 342.7C182.1 342.1 185.1 346.9 186 347.8" fill="none" stroke="#000" stroke-width="1.5" stroke-linejoin="round" stroke-linecap="round"/><path d="M190.5 358.8C191.3 354.8 194.2 337.1 195.5 334.6C196.8 332.1 197 341.8 198.2 343.8C199.4 345.8 201.1 346.3 202.5 346.5C203.9 346.7 205.5 345.6 206.9 345C208.3 344.4 209.1 341.6 210.9 342.7C212.7 343.8 215.3 346.9 217.9 351.5C220.5 356.1 225.2 367.4 226.7 370.6" fill="none" stroke="#000" stroke-width="1.5" stroke-linejoin="round" stroke-linecap="round"/><path d="M231.5 368.4C233.3 370.1 239.8 378.6 242.5 378.5C245.2 378.4 245.9 371.6 247.5 368C249.1 364.4 250.6 359.9 251.9 357C253.2 354.1 253.9 351.9 255.2 350.4C256.5 348.9 258.4 351.6 259.6 348.2C260.8 344.8 261.2 330.2 262.2 330.2C263.2 330.2 264.9 345.2 265.5 348.2" fill="none" stroke="#000" stroke-width="1.5" stroke-linejoin="round" stroke-linecap="round"/><path d="M269.8 348.7C271.9 350.3 279.5 355.6 282.5 358.1C285.5 360.6 286 365.1 288 363.6C290 362.1 292.6 354.2 294.6 349.3C296.6 344.4 298.5 337.3 300.1 334C301.7 330.7 303 330.8 304 329.6C305 328.4 304.4 318.9 306.2 326.7C308 334.5 313.5 368 315 376.3" fill="none" stroke="#000" stroke-width="1.5" stroke-linejoin="round" stroke-linecap="round"/><path d="M318.7 366.2C319.3 366.6 320.7 370.5 322.5 368.4C324.3 366.3 327.7 355.3 329.7 353.7C331.7 352.1 333.4 358.3 334.7 358.8C336 359.3 335.3 356 337.4 356.6C339.5 357.2 344.1 363.9 347.2 362.5C350.3 361.1 354.5 350.6 356 348.2" fill="none" stroke="#000" stroke-width="1.5" stroke-linejoin="round" stroke-linecap="round"/><path d="M360.5 329.6C361 330 362.2 330.6 363.6 331.8C365 333 367.3 334.2 368.6 336.8C369.9 339.4 370.3 342.9 371.5 347.1C372.7 351.3 374.7 359.4 375.9 361.8C377.1 364.2 377.3 365 378.5 361.4C379.7 357.8 382.2 341.9 383.3 339.9C384.4 337.9 384.5 349 385.1 349.3C385.7 349.6 385.7 341.2 386.8 341.6C387.9 342 390.9 349.9 391.7 351.5" fill="none" stroke="#000" stroke-width="1.5" stroke-linejoin="round" stroke-linecap="round"/><path d="M396.5 350.4C397.5 351.8 401 357.9 402.6 358.8C404.2 359.7 404.8 355.4 405.9 355.9C407 356.4 407.5 360.5 409.2 361.8C410.9 363.1 414.1 364.5 415.8 363.6C417.6 362.7 418.2 358.9 419.7 356.6C421.2 354.3 423.4 350.9 424.6 350C425.9 349.1 424.6 347.8 427.2 350.9C429.8 354 437.8 365.5 439.9 368.4" fill="none" stroke="#000" stroke-width="1.5" stroke-linejoin="round" stroke-linecap="round"/><path d="M443.8 345C444.6 345.5 447.1 345.9 448.6 348.2C450.1 350.5 451.8 358 453 358.8C454.2 359.6 454.8 353.7 455.8 353C456.8 352.3 458.2 353.8 459.1 354.8C460 355.8 459.6 359.7 460.9 358.8C462.2 357.9 465.1 351.4 466.8 349.3C468.5 347.2 469.2 342.4 471.2 346.5C473.2 350.6 477.6 369.5 478.9 374.1" fill="none" stroke="#000" stroke-width="1.5" stroke-linejoin="round" stroke-linecap="round"/><path d="M485 345.6C486.5 346.4 491.6 348.8 494.2 350.4C496.8 352 498.6 353.8 500.8 355.2C503 356.6 505.6 358.4 507.4 358.8C509.1 359.2 510.1 356.8 511.3 357.4C512.5 358 513.4 364.1 514.4 362.5C515.4 360.9 516.4 349.5 517.2 347.8C518 346.1 518.7 351.6 519.4 352.2C520.1 352.8 520.8 350 521.6 351.5C522.5 353 524 359.8 524.5 361.4" fill="none" stroke="#000" stroke-width="1.5" stroke-linejoin="round" stroke-linecap="round"/><path d="M528.8 337.1C529.8 337.1 532.9 337.9 535.1 337.1C537.3 336.3 540.3 333.5 542 332.2C543.7 330.9 544.5 327.3 545.5 329.4C546.5 331.4 547.4 339.5 548.3 344.5C549.1 349.5 549.9 356.1 550.6 359.6C551.3 363.1 551.9 365.8 552.5 365.4C553.1 365 553.6 360.9 554.3 357.2C555 353.4 555.9 342.7 556.7 342.9C557.6 343.1 558.5 356.9 559.4 358.4C560.2 359.9 561.4 353.2 561.8 352.1" fill="none" stroke="#000" stroke-width="1.5" stroke-linejoin="round" stroke-linecap="round"/><path d="M567.6 282.5C568 286.2 569.2 298.7 569.9 305C570.5 311.3 570.9 315.6 571.5 320.1C572.1 324.6 572.9 329.5 573.8 332.2C574.7 334.9 575.6 334.3 576.8 336.4C578 338.4 579.4 341.2 580.8 344.5C582.2 347.8 583.6 353.5 585 356.1C586.4 358.7 587.6 359.9 589.1 360C590.6 360.1 592 358 594.2 356.8C596.4 355.6 599.4 358.8 602.4 352.6C605.4 346.4 610.6 325.2 612.3 319.7" fill="none" stroke="#000" stroke-width="1.5" stroke-linejoin="round" stroke-linecap="round"/><path d="M69.6 232.5V437.3H647.6" fill="none" stroke="#333" stroke-width="1.1"/><line x1="67.1" y1="242.1" x2="69.6" y2="242.1" stroke="#333" stroke-width="0.8"/><text x="66.1" y="244.2" font-family='Liberation Sans, sans-serif' font-size="6.1" fill="#2a2a2a" text-anchor="end">1.0</text><line x1="67.1" y1="296.8" x2="69.6" y2="296.8" stroke="#333" stroke-width="0.8"/><text x="66.1" y="298.9" font-family='Liberation Sans, sans-serif' font-size="6.1" fill="#2a2a2a" text-anchor="end">0.5</text><line x1="67.1" y1="351.4" x2="69.6" y2="351.4" stroke="#333" stroke-width="0.8"/><text x="66.1" y="353.5" font-family='Liberation Sans, sans-serif' font-size="6.1" fill="#2a2a2a" text-anchor="end">0.0</text><line x1="67.1" y1="406" x2="69.6" y2="406" stroke="#333" stroke-width="0.8"/><text x="66.1" y="408.1" font-family='Liberation Sans, sans-serif' font-size="6.1" fill="#2a2a2a" text-anchor="end">-0.5</text><line x1="121.8" y1="437.3" x2="121.8" y2="439.3" stroke="#333" stroke-width="0.8"/><text transform="translate(123.3 441.8) rotate(-45)" font-family='Liberation Sans, sans-serif' font-size="5.9" fill="#222" text-anchor="end">Chr0</text><line x1="163.6" y1="437.3" x2="163.6" y2="439.3" stroke="#333" stroke-width="0.8"/><text transform="translate(165.1 441.8) rotate(-45)" font-family='Liberation Sans, sans-serif' font-size="5.9" fill="#222" text-anchor="end">Chr1</text><line x1="208.5" y1="437.3" x2="208.5" y2="439.3" stroke="#333" stroke-width="0.8"/><text transform="translate(210 441.8) rotate(-45)" font-family='Liberation Sans, sans-serif' font-size="5.9" fill="#222" text-anchor="end">Chr10</text><line x1="248.3" y1="437.3" x2="248.3" y2="439.3" stroke="#333" stroke-width="0.8"/><text transform="translate(249.8 441.8) rotate(-45)" font-family='Liberation Sans, sans-serif' font-size="5.9" fill="#222" text-anchor="end">Chr11</text><line x1="292.4" y1="437.3" x2="292.4" y2="439.3" stroke="#333" stroke-width="0.8"/><text transform="translate(293.9 441.8) rotate(-45)" font-family='Liberation Sans, sans-serif' font-size="5.9" fill="#222" text-anchor="end">Chr2</text><line x1="337.3" y1="437.3" x2="337.3" y2="439.3" stroke="#333" stroke-width="0.8"/><text transform="translate(338.8 441.8) rotate(-45)" font-family='Liberation Sans, sans-serif' font-size="5.9" fill="#222" text-anchor="end">Chr3</text><line x1="376.5" y1="437.3" x2="376.5" y2="439.3" stroke="#333" stroke-width="0.8"/><text transform="translate(378 441.8) rotate(-45)" font-family='Liberation Sans, sans-serif' font-size="5.9" fill="#222" text-anchor="end">Chr4</text><line x1="417.4" y1="437.3" x2="417.4" y2="439.3" stroke="#333" stroke-width="0.8"/><text transform="translate(418.9 441.8) rotate(-45)" font-family='Liberation Sans, sans-serif' font-size="5.9" fill="#222" text-anchor="end">Chr5</text><line x1="461.4" y1="437.3" x2="461.4" y2="439.3" stroke="#333" stroke-width="0.8"/><text transform="translate(462.9 441.8) rotate(-45)" font-family='Liberation Sans, sans-serif' font-size="5.9" fill="#222" text-anchor="end">Chr6</text><line x1="503.2" y1="437.3" x2="503.2" y2="439.3" stroke="#333" stroke-width="0.8"/><text transform="translate(504.7 441.8) rotate(-45)" font-family='Liberation Sans, sans-serif' font-size="5.9" fill="#222" text-anchor="end">Chr7</text><line x1="545.3" y1="437.3" x2="545.3" y2="439.3" stroke="#333" stroke-width="0.8"/><text transform="translate(546.8 441.8) rotate(-45)" font-family='Liberation Sans, sans-serif' font-size="5.9" fill="#222" text-anchor="end">Chr8</text><line x1="589.2" y1="437.3" x2="589.2" y2="439.3" stroke="#333" stroke-width="0.8"/><text transform="translate(590.7 441.8) rotate(-45)" font-family='Liberation Sans, sans-serif' font-size="5.9" fill="#222" text-anchor="end">Chr9</text><text transform="translate(43.2 332.5) rotate(-90)" font-family='Liberation Serif, serif' font-weight="bold" font-size="12.4" fill="#000" text-anchor="middle">Δ (InDel-index)</text><text x="3" y="23.9" font-family='Liberation Serif, serif' font-weight="bold" font-size="18" text-anchor="start">a</text><text x="1.5" y="245.2" font-family='Liberation Serif, serif' font-weight="bold" font-size="18" text-anchor="start">b</text><text x="5" y="474.2" font-family='Liberation Serif, serif' font-weight="bold" font-size="18" text-anchor="start">c</text><text x="5.8" y="576.3" font-family='Liberation Serif, serif' font-weight="bold" font-size="17" text-anchor="start">d</text><text x="16.5" y="828.8" font-family='Liberation Serif, serif' font-weight="bold" font-size="18" text-anchor="start">e</text><polyline points="560.7,1 566.8,446.5 100.5,492.8" fill="none" stroke="#000" stroke-width="2.6" stroke-dasharray="2.6 1.8"/><polyline points="569.7,2 575.8,450.5 645,495" fill="none" stroke="#000" stroke-width="2.6" stroke-dasharray="2.6 1.8"/><line x1="94.5" y1="497" x2="646.5" y2="497" stroke="#000" stroke-width="3.3"/><line x1="95.3" y1="498" x2="95.3" y2="528" stroke="#000" stroke-width="2" stroke-dasharray="4.5 3"/><line x1="645.5" y1="498" x2="645.5" y2="528" stroke="#000" stroke-width="2" stroke-dasharray="4.5 3"/><line x1="94.5" y1="527.9" x2="645.5" y2="529.2" stroke="#000" stroke-width="2.4"/><polygon points="106.4,520.5 153.9,520.5 161.4,526.8 161.4,529.2 153.9,535.5 106.4,535.5" fill="#000"/><polygon points="181,520.7 201.7,520.7 207.6,527 207.6,529.4 201.7,535.7 181,535.7" fill="#000"/><polygon points="227.8,520.8 257.3,520.8 263.5,527.1 263.5,529.5 257.3,535.8 227.8,535.8" fill="#000"/><polygon points="280,520.9 300.8,520.9 307.6,527.2 307.6,529.6 300.8,535.9 280,535.9" fill="#000"/><polygon points="323.5,521 368.5,521 375.4,527.3 375.4,529.7 368.5,536 323.5,536" fill="#000"/><polygon points="389.4,521.1 420.4,521.1 426.6,527.5 426.6,529.9 420.4,536.1 389.4,536.1" fill="#000"/><polygon points="442.7,521.2 463.9,521.2 471,527.6 471,530 463.9,536.2 442.7,536.2" fill="#000"/><polygon points="483.1,521.3 504,521.3 510.5,527.7 510.5,530.1 504,536.3 483.1,536.3" fill="#000"/><polygon points="516.2,521.4 561.4,521.4 568.4,527.8 568.4,530.2 561.4,536.4 516.2,536.4" fill="#000"/><polygon points="585.4,521.6 616.4,521.6 622,528 622,530.4 616.4,536.6 585.4,536.6" fill="#000"/><text x="88.2" y="531.2" font-family='Liberation Serif, serif' font-weight="bold" font-size="14.2" text-anchor="end">0.80 Mb</text><text x="657.8" y="532" font-family='Liberation Serif, serif' font-weight="bold" font-size="14.2" text-anchor="start">3.43 Mb</text><text x="405.2" y="486.5" font-family='Liberation Serif, serif' font-weight="bold" font-size="14.2" text-anchor="start">Chr 9 (2.63 Mb)</text><line x1="292.9" y1="505" x2="292.9" y2="830" stroke="#000" stroke-width="1.9" stroke-dasharray="5.5 3.5"/><line x1="401.6" y1="505" x2="401.6" y2="830" stroke="#000" stroke-width="1.9" stroke-dasharray="5.5 3.5"/><rect x="96" y="569.8" width="551" height="8.4" fill="#000"/><rect x="96.9" y="599.2" width="549.7" height="7.5" fill="#fff" stroke="#000" stroke-width="1.8"/><rect x="94.6" y="630" width="548.4" height="7.8" fill="#6e6e6e"/><rect x="94" y="661.1" width="308.8" height="7.2" fill="#000"/><rect x="404" y="661.6" width="239.2" height="8.6" fill="#6e6e6e"/><rect x="94" y="690.6" width="308.8" height="7.4" fill="#000"/><rect x="404" y="689" width="239.2" height="9.4" fill="#6e6e6e"/><rect x="403.9" y="718.4" width="240.3" height="9" fill="#fff" stroke="#000" stroke-width="1.8"/><rect x="94" y="719.1" width="310" height="7.6" fill="#000"/><rect x="403.9" y="752.2" width="239.4" height="10.2" fill="#fff" stroke="#000" stroke-width="1.8"/><rect x="94" y="753.6" width="310" height="7.2" fill="#000"/><rect x="94" y="784.2" width="195.6" height="7.5" fill="#6e6e6e"/><rect x="291" y="784.6" width="351.2" height="6.7" fill="#000"/><text x="84.7" y="580.7" font-family='Liberation Serif, serif' font-weight="bold" font-size="14.2" text-anchor="end">w106</text><text x="82.8" y="610" font-family='Liberation Serif, serif' font-weight="bold" font-size="14.2" text-anchor="end">CG</text><text x="67" y="640.3" font-family='Liberation Serif, serif' font-weight="bold" font-size="16.8" text-anchor="start">F</text><text x="76.6" y="643.7" font-family='Liberation Serif, serif' font-weight="bold" font-size="11.4" text-anchor="start">1</text><text x="50.8" y="669.2" font-family='Liberation Serif, serif' font-weight="bold" font-size="14.2" text-anchor="start">F</text><text x="59.6" y="672" font-family='Liberation Serif, serif' font-weight="bold" font-size="10.5" text-anchor="start">2</text><text x="75.8" y="669.2" font-family='Liberation Serif, serif' font-weight="bold" font-size="14.2" text-anchor="end">-8</text><text x="50.8" y="697.4" font-family='Liberation Serif, serif' font-weight="bold" font-size="14.2" text-anchor="start">F</text><text x="59.6" y="700.2" font-family='Liberation Serif, serif' font-weight="bold" font-size="10.5" text-anchor="start">2</text><text x="82.8" y="697.4" font-family='Liberation Serif, serif' font-weight="bold" font-size="14.2" text-anchor="end">-10</text><text x="50.8" y="727.5" font-family='Liberation Serif, serif' font-weight="bold" font-size="14.2" text-anchor="start">F</text><text x="59.6" y="730.3" font-family='Liberation Serif, serif' font-weight="bold" font-size="10.5" text-anchor="start">2</text><text x="81.4" y="727.5" font-family='Liberation Serif, serif' font-weight="bold" font-size="14.2" text-anchor="end">-11</text><text x="50.8" y="761.5" font-family='Liberation Serif, serif' font-weight="bold" font-size="14.2" text-anchor="start">F</text><text x="59.6" y="764.3" font-family='Liberation Serif, serif' font-weight="bold" font-size="10.5" text-anchor="start">2</text><text x="81.4" y="761.5" font-family='Liberation Serif, serif' font-weight="bold" font-size="14.2" text-anchor="end">-21</text><text x="50.8" y="793.2" font-family='Liberation Serif, serif' font-weight="bold" font-size="14.2" text-anchor="start">F</text><text x="59.6" y="796" font-family='Liberation Serif, serif' font-weight="bold" font-size="10.5" text-anchor="start">2</text><text x="82.8" y="793.2" font-family='Liberation Serif, serif' font-weight="bold" font-size="14.2" text-anchor="end">-30</text><text x="657.2" y="576.2" font-family='Liberation Serif, serif' font-weight="bold" font-size="14.2" text-anchor="start">dwarf</text><text x="658.6" y="606" font-family='Liberation Serif, serif' font-weight="bold" font-size="14.2" text-anchor="start">vine</text><text x="659.5" y="637.5" font-family='Liberation Serif, serif' font-weight="bold" font-size="14.2" text-anchor="start">vine</text><text x="654.2" y="667.6" font-family='Liberation Serif, serif' font-weight="bold" font-size="14.2" text-anchor="start">dwarf</text><text x="655.7" y="697.8" font-family='Liberation Serif, serif' font-weight="bold" font-size="14.2" text-anchor="start">dwarf</text><text x="654" y="726.4" font-family='Liberation Serif, serif' font-weight="bold" font-size="14.2" text-anchor="start">dwarf</text><text x="655.7" y="760.5" font-family='Liberation Serif, serif' font-weight="bold" font-size="14.2" text-anchor="start">dwarf</text><text x="655.7" y="792.5" font-family='Liberation Serif, serif' font-weight="bold" font-size="14.2" text-anchor="start">dwarf</text><text x="174" y="831" font-family='Liberation Serif, serif' font-weight="bold" font-size="14.2" text-anchor="start">dw37 (1.62 Mb)</text><text x="330" y="822.5" font-family='Liberation Serif, serif' font-weight="bold" font-size="14.2" text-anchor="start">541 kb</text><text x="419.4" y="833.5" font-family='Liberation Serif, serif' font-weight="bold" font-size="14.2" text-anchor="start">dw134 (2.16 Mb)</text><line x1="292.2" y1="831" x2="402" y2="831" stroke="#000" stroke-width="3.4"/><line x1="292.9" y1="832" x2="226" y2="892.5" stroke="#000" stroke-width="1.8" stroke-dasharray="4.8 3"/><line x1="401.6" y1="832" x2="470" y2="889" stroke="#000" stroke-width="1.8" stroke-dasharray="4.8 3"/><line x1="226" y1="892.6" x2="283" y2="892.2" stroke="#000" stroke-width="2"/><rect x="336.6" y="880.3" width="23.1" height="26" fill="#fff" stroke="#000" stroke-width="1"/><polygon points="421,880.3 430,880.3 443.6,893 430,906.3 421,906.3" fill="#fff" stroke="#000" stroke-width="1"/><line x1="336.6" y1="891.2" x2="359.7" y2="891.2" stroke="#000" stroke-width="2"/><line x1="421" y1="891" x2="470" y2="889" stroke="#000" stroke-width="2"/><rect x="283.4" y="880.3" width="53.2" height="26.2" fill="#6496d2" stroke="#0a1a30" stroke-width="1"/><rect x="359.7" y="880.3" width="61.3" height="26.2" fill="#6496d2" stroke="#0a1a30" stroke-width="1"/><line x1="360.1" y1="865.5" x2="360.1" y2="925" stroke="#000" stroke-width="1.5"/><text x="289.7" y="897.5" font-family='Liberation Serif, serif' font-weight="bold" font-size="14.2" text-anchor="start">Exon 1</text><text x="370.2" y="897.5" font-family='Liberation Serif, serif' font-weight="bold" font-size="14.2" text-anchor="start">Exon 2</text><text x="300.8" y="860.5" font-family='Liberation Serif, serif' font-weight="bold" font-size="14.2" text-anchor="start">‘w106’</text><text x="358" y="861" font-family='Liberation Serif, serif' font-weight="bold" font-size="14.2" text-anchor="middle">G</text><text x="306" y="943.5" font-family='Liberation Serif, serif' font-weight="bold" font-size="14.2" text-anchor="start">‘CG’</text><text x="358" y="943.5" font-family='Liberation Serif, serif' font-weight="bold" font-size="14.2" text-anchor="middle">A</text><text x="477.3" y="894.3" font-family='Liberation Serif, serif' font-weight="bold" font-size="14.2" text-anchor="start">Cla015407(GA3ox)</text><text x="382.3" y="943" font-family='Liberation Serif, serif' font-weight="bold" font-size="14.2" text-anchor="start">Chr9:1857472 (splice site acceptor of Cla015407)</text></svg></body></html>
